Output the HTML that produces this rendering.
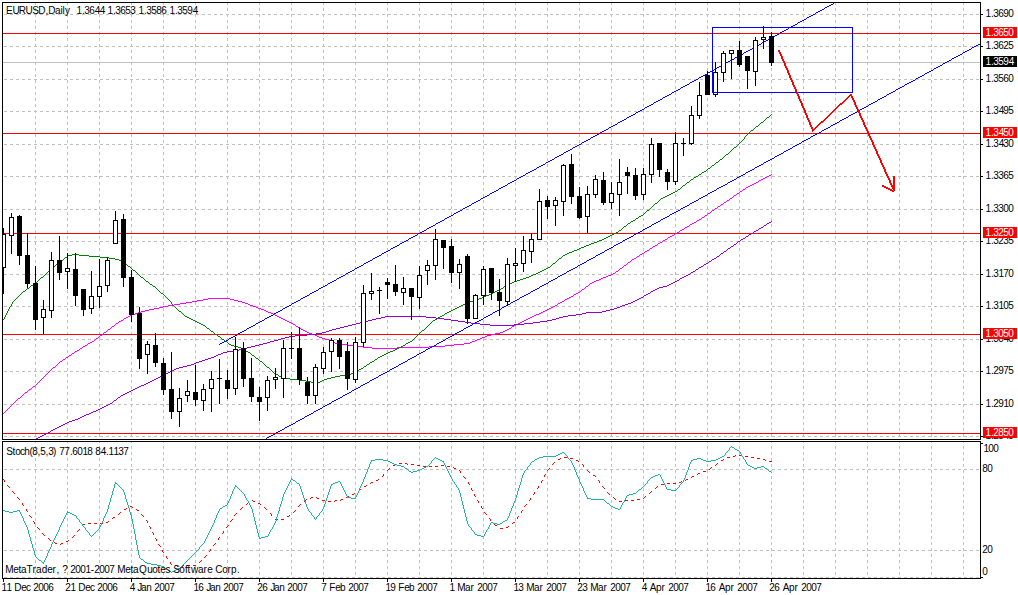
<!DOCTYPE html><html><head><meta charset="utf-8"><style>html,body{margin:0;padding:0;background:#fff;overflow:hidden}svg{display:block}text{font-family:"Liberation Sans", sans-serif;font-size:10px}</style></head><body>
<svg width="1018" height="595" viewBox="0 0 1018 595">
<rect x="0" y="0" width="1018" height="595" fill="#fff"/>
<defs><clipPath id="cm"><rect x="3" y="3" width="977" height="436"/></clipPath><clipPath id="cs"><rect x="3" y="442" width="977" height="136"/></clipPath></defs>
<g stroke="#c0c0c0" stroke-width="1" stroke-dasharray="3 3" shape-rendering="crispEdges" clip-path="url(#cm)"><line x1="4" y1="14.5" x2="980" y2="14.5"/><line x1="4" y1="46.5" x2="980" y2="46.5"/><line x1="4" y1="79.5" x2="980" y2="79.5"/><line x1="4" y1="111.5" x2="980" y2="111.5"/><line x1="4" y1="144.5" x2="980" y2="144.5"/><line x1="4" y1="176.5" x2="980" y2="176.5"/><line x1="4" y1="209.5" x2="980" y2="209.5"/><line x1="4" y1="241.5" x2="980" y2="241.5"/><line x1="4" y1="274.5" x2="980" y2="274.5"/><line x1="4" y1="306.5" x2="980" y2="306.5"/><line x1="4" y1="339.5" x2="980" y2="339.5"/><line x1="4" y1="371.5" x2="980" y2="371.5"/><line x1="4" y1="404.5" x2="980" y2="404.5"/><line x1="4" y1="436.5" x2="980" y2="436.5"/><line x1="35.5" y1="2" x2="35.5" y2="439"/><line x1="67.5" y1="2" x2="67.5" y2="439"/><line x1="99.5" y1="2" x2="99.5" y2="439"/><line x1="131.5" y1="2" x2="131.5" y2="439"/><line x1="163.5" y1="2" x2="163.5" y2="439"/><line x1="195.5" y1="2" x2="195.5" y2="439"/><line x1="227.5" y1="2" x2="227.5" y2="439"/><line x1="259.5" y1="2" x2="259.5" y2="439"/><line x1="291.5" y1="2" x2="291.5" y2="439"/><line x1="323.5" y1="2" x2="323.5" y2="439"/><line x1="355.5" y1="2" x2="355.5" y2="439"/><line x1="387.5" y1="2" x2="387.5" y2="439"/><line x1="419.5" y1="2" x2="419.5" y2="439"/><line x1="451.5" y1="2" x2="451.5" y2="439"/><line x1="483.5" y1="2" x2="483.5" y2="439"/><line x1="515.5" y1="2" x2="515.5" y2="439"/><line x1="547.5" y1="2" x2="547.5" y2="439"/><line x1="579.5" y1="2" x2="579.5" y2="439"/><line x1="611.5" y1="2" x2="611.5" y2="439"/><line x1="643.5" y1="2" x2="643.5" y2="439"/><line x1="675.5" y1="2" x2="675.5" y2="439"/><line x1="707.5" y1="2" x2="707.5" y2="439"/><line x1="739.5" y1="2" x2="739.5" y2="439"/><line x1="771.5" y1="2" x2="771.5" y2="439"/><line x1="803.5" y1="2" x2="803.5" y2="439"/><line x1="835.5" y1="2" x2="835.5" y2="439"/><line x1="867.5" y1="2" x2="867.5" y2="439"/><line x1="899.5" y1="2" x2="899.5" y2="439"/><line x1="931.5" y1="2" x2="931.5" y2="439"/><line x1="963.5" y1="2" x2="963.5" y2="439"/></g>
<g stroke="#c0c0c0" stroke-width="1" stroke-dasharray="3 3" shape-rendering="crispEdges" clip-path="url(#cs)"><line x1="4" y1="469.5" x2="980" y2="469.5"/><line x1="4" y1="550.5" x2="980" y2="550.5"/><line x1="4" y1="577.5" x2="980" y2="577.5"/><line x1="35.5" y1="440" x2="35.5" y2="578"/><line x1="67.5" y1="440" x2="67.5" y2="578"/><line x1="99.5" y1="440" x2="99.5" y2="578"/><line x1="131.5" y1="440" x2="131.5" y2="578"/><line x1="163.5" y1="440" x2="163.5" y2="578"/><line x1="195.5" y1="440" x2="195.5" y2="578"/><line x1="227.5" y1="440" x2="227.5" y2="578"/><line x1="259.5" y1="440" x2="259.5" y2="578"/><line x1="291.5" y1="440" x2="291.5" y2="578"/><line x1="323.5" y1="440" x2="323.5" y2="578"/><line x1="355.5" y1="440" x2="355.5" y2="578"/><line x1="387.5" y1="440" x2="387.5" y2="578"/><line x1="419.5" y1="440" x2="419.5" y2="578"/><line x1="451.5" y1="440" x2="451.5" y2="578"/><line x1="483.5" y1="440" x2="483.5" y2="578"/><line x1="515.5" y1="440" x2="515.5" y2="578"/><line x1="547.5" y1="440" x2="547.5" y2="578"/><line x1="579.5" y1="440" x2="579.5" y2="578"/><line x1="611.5" y1="440" x2="611.5" y2="578"/><line x1="643.5" y1="440" x2="643.5" y2="578"/><line x1="675.5" y1="440" x2="675.5" y2="578"/><line x1="707.5" y1="440" x2="707.5" y2="578"/><line x1="739.5" y1="440" x2="739.5" y2="578"/><line x1="771.5" y1="440" x2="771.5" y2="578"/><line x1="803.5" y1="440" x2="803.5" y2="578"/><line x1="835.5" y1="440" x2="835.5" y2="578"/><line x1="867.5" y1="440" x2="867.5" y2="578"/><line x1="899.5" y1="440" x2="899.5" y2="578"/><line x1="931.5" y1="440" x2="931.5" y2="578"/><line x1="963.5" y1="440" x2="963.5" y2="578"/></g>
<g shape-rendering="crispEdges" clip-path="url(#cm)">
<line x1="3" y1="62.5" x2="980" y2="62.5" stroke="#c0c0c0"/>
<line x1="3" y1="33.5" x2="980" y2="33.5" stroke="#ff0000"/>
<line x1="3" y1="133.5" x2="980" y2="133.5" stroke="#ff0000"/>
<line x1="3" y1="233.5" x2="980" y2="233.5" stroke="#ff0000"/>
<line x1="3" y1="334.5" x2="980" y2="334.5" stroke="#ff0000"/>
<line x1="3" y1="433.5" x2="980" y2="433.5" stroke="#ff0000"/>
</g>
<g clip-path="url(#cm)">
<path fill="#ff00ff" shape-rendering="crispEdges" d="M771 174h1v1h-1zM769 175h2v1h-2zM767 176h2v1h-2zM765 177h2v1h-2zM763 178h2v1h-2zM761 179h2v1h-2zM759 180h2v1h-2zM758 181h1v1h-1zM756 182h2v1h-2zM754 183h2v1h-2zM752 184h2v1h-2zM750 185h2v1h-2zM748 186h2v1h-2zM746 187h2v1h-2zM745 188h1v1h-1zM743 189h2v1h-2zM742 190h1v1h-1zM740 191h2v1h-2zM739 192h1v1h-1zM737 193h2v1h-2zM736 194h1v1h-1zM734 195h2v1h-2zM733 196h1v1h-1zM732 197h1v1h-1zM730 198h2v1h-2zM729 199h1v1h-1zM727 200h2v1h-2zM726 201h1v1h-1zM724 202h2v1h-2zM723 203h1v1h-1zM721 204h2v1h-2zM720 205h1v1h-1zM718 206h2v1h-2zM717 207h1v1h-1zM715 208h2v1h-2zM714 209h1v1h-1zM712 210h2v1h-2zM711 211h1v1h-1zM710 212h1v1h-1zM708 213h2v1h-2zM707 214h1v1h-1zM705 215h2v1h-2zM704 216h1v1h-1zM702 217h2v1h-2zM701 218h1v1h-1zM699 219h2v1h-2zM697 220h2v1h-2zM696 221h1v1h-1zM694 222h2v1h-2zM692 223h2v1h-2zM690 224h2v1h-2zM689 225h1v1h-1zM687 226h2v1h-2zM685 227h2v1h-2zM684 228h1v1h-1zM682 229h2v1h-2zM680 230h2v1h-2zM679 231h1v1h-1zM677 232h2v1h-2zM675 233h2v1h-2zM674 234h1v1h-1zM672 235h2v1h-2zM670 236h2v1h-2zM668 237h2v1h-2zM667 238h1v1h-1zM665 239h2v1h-2zM663 240h2v1h-2zM662 241h1v1h-1zM660 242h2v1h-2zM658 243h2v1h-2zM657 244h1v1h-1zM655 245h2v1h-2zM653 246h2v1h-2zM652 247h1v1h-1zM650 248h2v1h-2zM649 249h1v1h-1zM647 250h2v1h-2zM645 251h2v1h-2zM644 252h1v1h-1zM642 253h2v1h-2zM640 254h2v1h-2zM639 255h1v1h-1zM637 256h2v1h-2zM636 257h1v1h-1zM634 258h2v1h-2zM632 259h2v1h-2zM631 260h1v1h-1zM630 261h1v1h-1zM628 262h2v1h-2zM627 263h1v1h-1zM626 264h1v1h-1zM624 265h2v1h-2zM623 266h1v1h-1zM622 267h1v1h-1zM620 268h2v1h-2zM619 269h1v1h-1zM618 270h1v1h-1zM616 271h2v1h-2zM615 272h1v1h-1zM613 273h2v1h-2zM611 274h2v1h-2zM608 275h3v1h-3zM606 276h2v1h-2zM603 277h3v1h-3zM601 278h2v1h-2zM599 279h2v1h-2zM596 280h3v1h-3zM594 281h2v1h-2zM592 282h2v1h-2zM590 283h2v1h-2zM589 284h1v1h-1zM588 285h1v1h-1zM586 286h2v1h-2zM585 287h1v1h-1zM584 288h1v1h-1zM582 289h2v1h-2zM581 290h1v1h-1zM580 291h1v1h-1zM578 292h2v1h-2zM576 293h2v1h-2zM574 294h2v1h-2zM573 295h1v1h-1zM571 296h2v1h-2zM569 297h2v1h-2zM208 298h22v1h-22zM567 298h2v1h-2zM203 299h5v1h-5zM230 299h4v1h-4zM565 299h2v1h-2zM197 300h6v1h-6zM234 300h4v1h-4zM564 300h1v1h-1zM192 301h5v1h-5zM238 301h4v1h-4zM562 301h2v1h-2zM186 302h6v1h-6zM242 302h3v1h-3zM560 302h2v1h-2zM180 303h6v1h-6zM245 303h3v1h-3zM558 303h2v1h-2zM174 304h6v1h-6zM248 304h2v1h-2zM557 304h1v1h-1zM168 305h6v1h-6zM250 305h3v1h-3zM555 305h2v1h-2zM163 306h5v1h-5zM253 306h3v1h-3zM553 306h2v1h-2zM159 307h4v1h-4zM256 307h2v1h-2zM551 307h2v1h-2zM154 308h5v1h-5zM258 308h3v1h-3zM549 308h2v1h-2zM149 309h5v1h-5zM261 309h3v1h-3zM547 309h2v1h-2zM145 310h4v1h-4zM264 310h2v1h-2zM545 310h2v1h-2zM141 311h4v1h-4zM266 311h2v1h-2zM543 311h2v1h-2zM138 312h3v1h-3zM268 312h3v1h-3zM541 312h2v1h-2zM135 313h3v1h-3zM271 313h2v1h-2zM539 313h2v1h-2zM132 314h3v1h-3zM273 314h2v1h-2zM536 314h3v1h-3zM130 315h2v1h-2zM275 315h2v1h-2zM534 315h2v1h-2zM128 316h2v1h-2zM277 316h2v1h-2zM532 316h2v1h-2zM126 317h2v1h-2zM279 317h2v1h-2zM530 317h2v1h-2zM124 318h2v1h-2zM281 318h2v1h-2zM528 318h2v1h-2zM123 319h1v1h-1zM283 319h2v1h-2zM526 319h2v1h-2zM121 320h2v1h-2zM285 320h2v1h-2zM524 320h2v1h-2zM119 321h2v1h-2zM287 321h2v1h-2zM522 321h2v1h-2zM118 322h1v1h-1zM289 322h2v1h-2zM520 322h2v1h-2zM116 323h2v1h-2zM291 323h2v1h-2zM518 323h2v1h-2zM115 324h1v1h-1zM293 324h2v1h-2zM516 324h2v1h-2zM114 325h1v1h-1zM295 325h1v1h-1zM514 325h2v1h-2zM112 326h2v1h-2zM296 326h2v1h-2zM512 326h2v1h-2zM111 327h1v1h-1zM298 327h2v1h-2zM511 327h1v1h-1zM110 328h1v1h-1zM300 328h1v1h-1zM509 328h2v1h-2zM108 329h2v1h-2zM301 329h2v1h-2zM507 329h2v1h-2zM107 330h1v1h-1zM303 330h2v1h-2zM505 330h2v1h-2zM106 331h1v1h-1zM305 331h2v1h-2zM503 331h2v1h-2zM104 332h2v1h-2zM307 332h2v1h-2zM500 332h3v1h-3zM103 333h1v1h-1zM309 333h3v1h-3zM495 333h5v1h-5zM102 334h1v1h-1zM312 334h3v1h-3zM491 334h4v1h-4zM100 335h2v1h-2zM315 335h2v1h-2zM487 335h4v1h-4zM99 336h1v1h-1zM317 336h2v1h-2zM485 336h2v1h-2zM98 337h1v1h-1zM319 337h3v1h-3zM482 337h3v1h-3zM96 338h2v1h-2zM322 338h3v1h-3zM480 338h2v1h-2zM95 339h1v1h-1zM325 339h4v1h-4zM477 339h3v1h-3zM94 340h1v1h-1zM329 340h2v1h-2zM475 340h2v1h-2zM92 341h2v1h-2zM331 341h2v1h-2zM472 341h3v1h-3zM90 342h2v1h-2zM333 342h2v1h-2zM470 342h2v1h-2zM88 343h2v1h-2zM335 343h5v1h-5zM464 343h6v1h-6zM87 344h1v1h-1zM340 344h8v1h-8zM454 344h10v1h-10zM85 345h2v1h-2zM348 345h7v1h-7zM445 345h9v1h-9zM83 346h2v1h-2zM355 346h8v1h-8zM429 346h16v1h-16zM82 347h1v1h-1zM363 347h9v1h-9zM397 347h32v1h-32zM80 348h2v1h-2zM372 348h25v1h-25zM79 349h1v1h-1zM77 350h2v1h-2zM75 351h2v1h-2zM74 352h1v1h-1zM72 353h2v1h-2zM71 354h1v1h-1zM69 355h2v1h-2zM68 356h1v1h-1zM66 357h2v1h-2zM65 358h1v1h-1zM63 359h2v1h-2zM62 360h1v1h-1zM60 361h2v1h-2zM59 362h1v1h-1zM58 363h1v1h-1zM57 364h1v1h-1zM56 365h1v1h-1zM55 366h1v1h-1zM53 367h2v1h-2zM52 368h1v1h-1zM51 369h1v1h-1zM50 370h1v1h-1zM49 371h1v1h-1zM48 372h1v1h-1zM47 373h1v1h-1zM46 374h1v1h-1zM45 375h1v1h-1zM44 376h1v1h-1zM43 377h1v1h-1zM42 378h1v1h-1zM41 379h1v1h-1zM40 380h1v1h-1zM39 381h1v1h-1zM38 382h1v1h-1zM37 383h1v1h-1zM36 384h1v1h-1zM35 385h1v1h-1zM33 386h2v1h-2zM32 387h1v1h-1zM31 388h1v1h-1zM29 389h2v1h-2zM28 390h1v1h-1zM27 391h1v1h-1zM25 392h2v1h-2zM24 393h1v1h-1zM23 394h1v1h-1zM22 395h1v1h-1zM21 396h1v1h-1zM20 397h1v1h-1zM18 398h2v1h-2zM17 399h1v1h-1zM16 400h1v1h-1zM15 401h1v1h-1zM14 402h1v1h-1zM13 403h1v1h-1zM12 404h1v1h-1zM11 405h1v1h-1zM10 406h1v1h-1zM9 407h1v1h-1zM8 408h1v1h-1zM7 409h1v1h-1zM6 410h1v1h-1zM5 411h1v1h-1zM4 412h1v1h-1zM3 413h1v1h-1zM2 414h1v1h-1z"/>
<path fill="#9400d3" shape-rendering="crispEdges" d="M771 221h1v1h-1zM769 222h2v1h-2zM767 223h2v1h-2zM766 224h1v1h-1zM764 225h2v1h-2zM763 226h1v1h-1zM761 227h2v1h-2zM759 228h2v1h-2zM758 229h1v1h-1zM756 230h2v1h-2zM754 231h2v1h-2zM753 232h1v1h-1zM751 233h2v1h-2zM749 234h2v1h-2zM748 235h1v1h-1zM746 236h2v1h-2zM745 237h1v1h-1zM743 238h2v1h-2zM741 239h2v1h-2zM740 240h1v1h-1zM738 241h2v1h-2zM737 242h1v1h-1zM736 243h1v1h-1zM734 244h2v1h-2zM733 245h1v1h-1zM731 246h2v1h-2zM730 247h1v1h-1zM728 248h2v1h-2zM727 249h1v1h-1zM726 250h1v1h-1zM724 251h2v1h-2zM723 252h1v1h-1zM721 253h2v1h-2zM720 254h1v1h-1zM719 255h1v1h-1zM717 256h2v1h-2zM716 257h1v1h-1zM714 258h2v1h-2zM712 259h2v1h-2zM711 260h1v1h-1zM709 261h2v1h-2zM708 262h1v1h-1zM706 263h2v1h-2zM704 264h2v1h-2zM703 265h1v1h-1zM701 266h2v1h-2zM699 267h2v1h-2zM698 268h1v1h-1zM696 269h2v1h-2zM695 270h1v1h-1zM693 271h2v1h-2zM691 272h2v1h-2zM690 273h1v1h-1zM688 274h2v1h-2zM686 275h2v1h-2zM684 276h2v1h-2zM682 277h2v1h-2zM680 278h2v1h-2zM679 279h1v1h-1zM677 280h2v1h-2zM675 281h2v1h-2zM673 282h2v1h-2zM671 283h2v1h-2zM669 284h2v1h-2zM667 285h2v1h-2zM663 286h4v1h-4zM659 287h4v1h-4zM657 288h2v1h-2zM655 289h2v1h-2zM653 290h2v1h-2zM651 291h2v1h-2zM650 292h1v1h-1zM648 293h2v1h-2zM646 294h2v1h-2zM644 295h2v1h-2zM643 296h1v1h-1zM641 297h2v1h-2zM639 298h2v1h-2zM637 299h2v1h-2zM635 300h2v1h-2zM633 301h2v1h-2zM631 302h2v1h-2zM628 303h3v1h-3zM625 304h3v1h-3zM622 305h3v1h-3zM620 306h2v1h-2zM617 307h3v1h-3zM614 308h3v1h-3zM610 309h4v1h-4zM606 310h4v1h-4zM602 311h4v1h-4zM586 312h16v1h-16zM582 313h4v1h-4zM576 314h6v1h-6zM568 315h8v1h-8zM385 316h41v1h-41zM563 316h5v1h-5zM381 317h4v1h-4zM426 317h10v1h-10zM559 317h4v1h-4zM376 318h5v1h-5zM436 318h8v1h-8zM556 318h3v1h-3zM372 319h4v1h-4zM444 319h7v1h-7zM552 319h4v1h-4zM368 320h4v1h-4zM451 320h7v1h-7zM547 320h5v1h-5zM364 321h4v1h-4zM458 321h7v1h-7zM540 321h7v1h-7zM360 322h4v1h-4zM465 322h6v1h-6zM533 322h7v1h-7zM356 323h4v1h-4zM471 323h9v1h-9zM524 323h9v1h-9zM352 324h4v1h-4zM480 324h10v1h-10zM514 324h10v1h-10zM348 325h4v1h-4zM490 325h24v1h-24zM344 326h4v1h-4zM340 327h4v1h-4zM336 328h4v1h-4zM332 329h4v1h-4zM329 330h3v1h-3zM326 331h3v1h-3zM322 332h4v1h-4zM316 333h6v1h-6zM307 334h9v1h-9zM295 335h12v1h-12zM289 336h6v1h-6zM285 337h4v1h-4zM281 338h4v1h-4zM278 339h3v1h-3zM274 340h4v1h-4zM270 341h4v1h-4zM267 342h3v1h-3zM263 343h4v1h-4zM259 344h4v1h-4zM255 345h4v1h-4zM251 346h4v1h-4zM247 347h4v1h-4zM243 348h4v1h-4zM239 349h4v1h-4zM233 350h6v1h-6zM227 351h6v1h-6zM223 352h4v1h-4zM221 353h2v1h-2zM218 354h3v1h-3zM216 355h2v1h-2zM214 356h2v1h-2zM211 357h3v1h-3zM208 358h3v1h-3zM205 359h3v1h-3zM202 360h3v1h-3zM199 361h3v1h-3zM196 362h3v1h-3zM194 363h2v1h-2zM191 364h3v1h-3zM187 365h4v1h-4zM183 366h4v1h-4zM179 367h4v1h-4zM176 368h3v1h-3zM174 369h2v1h-2zM172 370h2v1h-2zM170 371h2v1h-2zM168 372h2v1h-2zM166 373h2v1h-2zM164 374h2v1h-2zM162 375h2v1h-2zM160 376h2v1h-2zM158 377h2v1h-2zM156 378h2v1h-2zM154 379h2v1h-2zM152 380h2v1h-2zM150 381h2v1h-2zM148 382h2v1h-2zM146 383h2v1h-2zM144 384h2v1h-2zM141 385h3v1h-3zM139 386h2v1h-2zM137 387h2v1h-2zM135 388h2v1h-2zM133 389h2v1h-2zM131 390h2v1h-2zM129 391h2v1h-2zM127 392h2v1h-2zM125 393h2v1h-2zM123 394h2v1h-2zM121 395h2v1h-2zM120 396h1v1h-1zM118 397h2v1h-2zM117 398h1v1h-1zM116 399h1v1h-1zM114 400h2v1h-2zM113 401h1v1h-1zM112 402h1v1h-1zM110 403h2v1h-2zM108 404h2v1h-2zM106 405h2v1h-2zM104 406h2v1h-2zM102 407h2v1h-2zM100 408h2v1h-2zM98 409h2v1h-2zM96 410h2v1h-2zM93 411h3v1h-3zM91 412h2v1h-2zM89 413h2v1h-2zM86 414h3v1h-3zM84 415h2v1h-2zM82 416h2v1h-2zM80 417h2v1h-2zM78 418h2v1h-2zM75 419h3v1h-3zM72 420h3v1h-3zM69 421h3v1h-3zM67 422h2v1h-2zM65 423h2v1h-2zM63 424h2v1h-2zM61 425h2v1h-2zM59 426h2v1h-2zM57 427h2v1h-2zM55 428h2v1h-2zM53 429h2v1h-2zM51 430h2v1h-2zM50 431h1v1h-1zM48 432h2v1h-2zM46 433h2v1h-2zM44 434h2v1h-2zM42 435h2v1h-2zM40 436h2v1h-2zM38 437h2v1h-2zM36 438h2v1h-2zM32 439h4v1h-4zM30 440h2v1h-2z"/>
<path fill="#008000" shape-rendering="crispEdges" d="M771 114h1v1h-1zM770 115h1v1h-1zM769 116h1v1h-1zM767 117h2v1h-2zM766 118h1v1h-1zM765 119h1v1h-1zM764 120h1v1h-1zM763 121h1v1h-1zM761 122h2v1h-2zM760 123h1v1h-1zM759 124h1v1h-1zM758 125h1v1h-1zM756 126h2v1h-2zM755 127h1v1h-1zM754 128h1v1h-1zM753 129h1v1h-1zM751 130h2v1h-2zM750 131h1v1h-1zM749 132h1v1h-1zM748 133h1v1h-1zM747 134h1v1h-1zM746 135h1v1h-1zM745 136h1v1h-1zM744 137h1v1h-1zM744 138h1v1h-1zM743 139h1v1h-1zM742 140h1v1h-1zM741 141h1v1h-1zM740 142h1v1h-1zM739 143h1v1h-1zM738 144h1v1h-1zM737 145h1v1h-1zM736 146h1v1h-1zM734 147h2v1h-2zM733 148h1v1h-1zM732 149h1v1h-1zM731 150h1v1h-1zM730 151h1v1h-1zM729 152h1v1h-1zM728 153h1v1h-1zM726 154h2v1h-2zM725 155h1v1h-1zM724 156h1v1h-1zM723 157h1v1h-1zM722 158h1v1h-1zM720 159h2v1h-2zM719 160h1v1h-1zM718 161h1v1h-1zM716 162h2v1h-2zM715 163h1v1h-1zM714 164h1v1h-1zM712 165h2v1h-2zM711 166h1v1h-1zM710 167h1v1h-1zM708 168h2v1h-2zM707 169h1v1h-1zM706 170h1v1h-1zM704 171h2v1h-2zM702 172h2v1h-2zM701 173h1v1h-1zM699 174h2v1h-2zM698 175h1v1h-1zM696 176h2v1h-2zM694 177h2v1h-2zM693 178h1v1h-1zM691 179h2v1h-2zM690 180h1v1h-1zM689 181h1v1h-1zM687 182h2v1h-2zM686 183h1v1h-1zM685 184h1v1h-1zM683 185h2v1h-2zM682 186h1v1h-1zM681 187h1v1h-1zM680 188h1v1h-1zM678 189h2v1h-2zM677 190h1v1h-1zM675 191h2v1h-2zM673 192h2v1h-2zM671 193h2v1h-2zM669 194h2v1h-2zM667 195h2v1h-2zM665 196h2v1h-2zM663 197h2v1h-2zM661 198h2v1h-2zM660 199h1v1h-1zM659 200h1v1h-1zM658 201h1v1h-1zM657 202h1v1h-1zM655 203h2v1h-2zM654 204h1v1h-1zM653 205h1v1h-1zM652 206h1v1h-1zM651 207h1v1h-1zM650 208h1v1h-1zM649 209h1v1h-1zM647 210h2v1h-2zM646 211h1v1h-1zM645 212h1v1h-1zM644 213h1v1h-1zM643 214h1v1h-1zM641 215h2v1h-2zM639 216h2v1h-2zM638 217h1v1h-1zM636 218h2v1h-2zM635 219h1v1h-1zM633 220h2v1h-2zM631 221h2v1h-2zM630 222h1v1h-1zM628 223h2v1h-2zM627 224h1v1h-1zM626 225h1v1h-1zM624 226h2v1h-2zM623 227h1v1h-1zM622 228h1v1h-1zM621 229h1v1h-1zM619 230h2v1h-2zM618 231h1v1h-1zM616 232h2v1h-2zM614 233h2v1h-2zM612 234h2v1h-2zM610 235h2v1h-2zM608 236h2v1h-2zM606 237h2v1h-2zM604 238h2v1h-2zM602 239h2v1h-2zM599 240h3v1h-3zM597 241h2v1h-2zM594 242h3v1h-3zM591 243h3v1h-3zM589 244h2v1h-2zM586 245h3v1h-3zM584 246h2v1h-2zM581 247h3v1h-3zM579 248h2v1h-2zM577 249h2v1h-2zM574 250h3v1h-3zM572 251h2v1h-2zM569 252h3v1h-3zM567 253h2v1h-2zM72 254h7v1h-7zM565 254h2v1h-2zM68 255h4v1h-4zM79 255h10v1h-10zM563 255h2v1h-2zM67 256h1v1h-1zM89 256h11v1h-11zM562 256h1v1h-1zM65 257h2v1h-2zM100 257h9v1h-9zM561 257h1v1h-1zM64 258h1v1h-1zM109 258h6v1h-6zM559 258h2v1h-2zM63 259h1v1h-1zM115 259h4v1h-4zM558 259h1v1h-1zM61 260h2v1h-2zM119 260h2v1h-2zM557 260h1v1h-1zM60 261h1v1h-1zM121 261h1v1h-1zM556 261h1v1h-1zM59 262h1v1h-1zM122 262h2v1h-2zM555 262h1v1h-1zM58 263h1v1h-1zM124 263h1v1h-1zM553 263h2v1h-2zM56 264h2v1h-2zM125 264h2v1h-2zM552 264h1v1h-1zM55 265h1v1h-1zM127 265h1v1h-1zM551 265h1v1h-1zM54 266h1v1h-1zM128 266h2v1h-2zM550 266h1v1h-1zM53 267h1v1h-1zM130 267h1v1h-1zM548 267h2v1h-2zM52 268h1v1h-1zM131 268h1v1h-1zM546 268h2v1h-2zM51 269h1v1h-1zM132 269h1v1h-1zM544 269h2v1h-2zM49 270h2v1h-2zM133 270h2v1h-2zM542 270h2v1h-2zM48 271h1v1h-1zM135 271h1v1h-1zM540 271h2v1h-2zM47 272h1v1h-1zM136 272h1v1h-1zM538 272h2v1h-2zM46 273h1v1h-1zM137 273h1v1h-1zM536 273h2v1h-2zM45 274h1v1h-1zM138 274h1v1h-1zM533 274h3v1h-3zM44 275h1v1h-1zM139 275h1v1h-1zM531 275h2v1h-2zM43 276h1v1h-1zM140 276h1v1h-1zM529 276h2v1h-2zM41 277h2v1h-2zM141 277h2v1h-2zM526 277h3v1h-3zM40 278h1v1h-1zM143 278h1v1h-1zM523 278h3v1h-3zM39 279h1v1h-1zM144 279h1v1h-1zM520 279h3v1h-3zM38 280h1v1h-1zM145 280h1v1h-1zM517 280h3v1h-3zM37 281h1v1h-1zM146 281h2v1h-2zM514 281h3v1h-3zM35 282h2v1h-2zM148 282h1v1h-1zM512 282h2v1h-2zM34 283h1v1h-1zM149 283h1v1h-1zM510 283h2v1h-2zM33 284h1v1h-1zM150 284h2v1h-2zM508 284h2v1h-2zM31 285h2v1h-2zM152 285h1v1h-1zM506 285h2v1h-2zM30 286h1v1h-1zM153 286h2v1h-2zM504 286h2v1h-2zM29 287h1v1h-1zM155 287h1v1h-1zM503 287h1v1h-1zM27 288h2v1h-2zM156 288h1v1h-1zM501 288h2v1h-2zM26 289h1v1h-1zM157 289h1v1h-1zM499 289h2v1h-2zM25 290h1v1h-1zM158 290h1v1h-1zM497 290h2v1h-2zM23 291h2v1h-2zM159 291h1v1h-1zM495 291h2v1h-2zM22 292h1v1h-1zM160 292h1v1h-1zM493 292h2v1h-2zM21 293h1v1h-1zM161 293h2v1h-2zM491 293h2v1h-2zM20 294h1v1h-1zM163 294h1v1h-1zM489 294h2v1h-2zM19 295h1v1h-1zM164 295h1v1h-1zM486 295h3v1h-3zM18 296h1v1h-1zM165 296h1v1h-1zM484 296h2v1h-2zM17 297h1v1h-1zM166 297h1v1h-1zM482 297h2v1h-2zM16 298h1v1h-1zM167 298h1v1h-1zM479 298h3v1h-3zM15 299h1v1h-1zM168 299h1v1h-1zM476 299h3v1h-3zM14 300h1v1h-1zM169 300h1v1h-1zM473 300h3v1h-3zM13 301h1v1h-1zM170 301h1v1h-1zM470 301h3v1h-3zM12 302h1v1h-1zM171 302h1v1h-1zM467 302h3v1h-3zM12 303h1v1h-1zM171 303h1v1h-1zM465 303h2v1h-2zM11 304h1v1h-1zM172 304h1v1h-1zM463 304h2v1h-2zM11 305h1v1h-1zM173 305h1v1h-1zM461 305h2v1h-2zM10 306h1v1h-1zM174 306h1v1h-1zM459 306h2v1h-2zM9 307h1v1h-1zM175 307h1v1h-1zM457 307h2v1h-2zM9 308h1v1h-1zM176 308h1v1h-1zM455 308h2v1h-2zM8 309h1v1h-1zM177 309h1v1h-1zM453 309h2v1h-2zM8 310h1v1h-1zM178 310h1v1h-1zM451 310h2v1h-2zM7 311h1v1h-1zM179 311h2v1h-2zM449 311h2v1h-2zM7 312h1v1h-1zM181 312h1v1h-1zM447 312h2v1h-2zM6 313h1v1h-1zM182 313h1v1h-1zM445 313h2v1h-2zM6 314h1v1h-1zM183 314h1v1h-1zM444 314h1v1h-1zM5 315h1v1h-1zM184 315h1v1h-1zM442 315h2v1h-2zM5 316h1v1h-1zM185 316h2v1h-2zM440 316h2v1h-2zM4 317h1v1h-1zM187 317h2v1h-2zM438 317h2v1h-2zM4 318h1v1h-1zM189 318h2v1h-2zM437 318h1v1h-1zM3 319h1v1h-1zM191 319h2v1h-2zM435 319h2v1h-2zM193 320h2v1h-2zM433 320h2v1h-2zM195 321h2v1h-2zM432 321h1v1h-1zM197 322h2v1h-2zM431 322h1v1h-1zM199 323h2v1h-2zM430 323h1v1h-1zM201 324h2v1h-2zM429 324h1v1h-1zM203 325h2v1h-2zM428 325h1v1h-1zM205 326h1v1h-1zM427 326h1v1h-1zM206 327h1v1h-1zM426 327h1v1h-1zM207 328h2v1h-2zM425 328h1v1h-1zM209 329h1v1h-1zM424 329h1v1h-1zM210 330h1v1h-1zM422 330h2v1h-2zM211 331h2v1h-2zM421 331h1v1h-1zM213 332h1v1h-1zM420 332h1v1h-1zM214 333h1v1h-1zM419 333h1v1h-1zM215 334h2v1h-2zM418 334h1v1h-1zM217 335h1v1h-1zM417 335h1v1h-1zM218 336h2v1h-2zM416 336h1v1h-1zM220 337h1v1h-1zM415 337h1v1h-1zM221 338h1v1h-1zM414 338h1v1h-1zM222 339h2v1h-2zM413 339h1v1h-1zM224 340h1v1h-1zM412 340h1v1h-1zM225 341h2v1h-2zM410 341h2v1h-2zM227 342h1v1h-1zM408 342h2v1h-2zM228 343h1v1h-1zM406 343h2v1h-2zM229 344h2v1h-2zM405 344h1v1h-1zM231 345h3v1h-3zM403 345h2v1h-2zM234 346h4v1h-4zM401 346h2v1h-2zM238 347h3v1h-3zM399 347h2v1h-2zM241 348h2v1h-2zM397 348h2v1h-2zM243 349h2v1h-2zM395 349h2v1h-2zM245 350h1v1h-1zM393 350h2v1h-2zM246 351h2v1h-2zM390 351h3v1h-3zM248 352h2v1h-2zM388 352h2v1h-2zM250 353h1v1h-1zM386 353h2v1h-2zM251 354h1v1h-1zM384 354h2v1h-2zM252 355h2v1h-2zM382 355h2v1h-2zM254 356h1v1h-1zM380 356h2v1h-2zM255 357h1v1h-1zM378 357h2v1h-2zM256 358h2v1h-2zM377 358h1v1h-1zM258 359h1v1h-1zM375 359h2v1h-2zM259 360h1v1h-1zM374 360h1v1h-1zM260 361h2v1h-2zM372 361h2v1h-2zM262 362h1v1h-1zM370 362h2v1h-2zM263 363h1v1h-1zM369 363h1v1h-1zM264 364h1v1h-1zM367 364h2v1h-2zM265 365h1v1h-1zM366 365h1v1h-1zM266 366h1v1h-1zM364 366h2v1h-2zM267 367h2v1h-2zM363 367h1v1h-1zM269 368h1v1h-1zM361 368h2v1h-2zM270 369h1v1h-1zM359 369h2v1h-2zM271 370h1v1h-1zM357 370h2v1h-2zM272 371h1v1h-1zM355 371h2v1h-2zM273 372h1v1h-1zM353 372h2v1h-2zM274 373h2v1h-2zM351 373h2v1h-2zM276 374h2v1h-2zM346 374h5v1h-5zM278 375h1v1h-1zM340 375h6v1h-6zM279 376h2v1h-2zM335 376h5v1h-5zM281 377h2v1h-2zM331 377h4v1h-4zM283 378h7v1h-7zM327 378h4v1h-4zM290 379h10v1h-10zM324 379h3v1h-3zM300 380h6v1h-6zM322 380h2v1h-2zM306 381h5v1h-5zM320 381h2v1h-2zM311 382h4v1h-4zM318 382h2v1h-2zM315 383h3v1h-3z"/>
<path fill="#0000ff" shape-rendering="crispEdges" d="M833 3h1v1h-1zM831 4h2v1h-2zM829 5h2v1h-2zM827 6h2v1h-2zM825 7h2v1h-2zM824 8h1v1h-1zM822 9h2v1h-2zM820 10h2v1h-2zM818 11h2v1h-2zM816 12h2v1h-2zM815 13h1v1h-1zM813 14h2v1h-2zM811 15h2v1h-2zM809 16h2v1h-2zM807 17h2v1h-2zM806 18h1v1h-1zM804 19h2v1h-2zM802 20h2v1h-2zM800 21h2v1h-2zM798 22h2v1h-2zM797 23h1v1h-1zM795 24h2v1h-2zM793 25h2v1h-2zM791 26h2v1h-2zM789 27h2v1h-2zM788 28h1v1h-1zM786 29h2v1h-2zM784 30h2v1h-2zM782 31h2v1h-2zM780 32h2v1h-2zM779 33h1v1h-1zM777 34h2v1h-2zM775 35h2v1h-2zM773 36h2v1h-2zM771 37h2v1h-2zM770 38h1v1h-1zM768 39h2v1h-2zM766 40h2v1h-2zM764 41h2v1h-2zM762 42h2v1h-2zM761 43h1v1h-1zM759 44h2v1h-2zM757 45h2v1h-2zM755 46h2v1h-2zM753 47h2v1h-2zM752 48h1v1h-1zM750 49h2v1h-2zM748 50h2v1h-2zM746 51h2v1h-2zM744 52h2v1h-2zM743 53h1v1h-1zM741 54h2v1h-2zM739 55h2v1h-2zM737 56h2v1h-2zM735 57h2v1h-2zM734 58h1v1h-1zM732 59h2v1h-2zM730 60h2v1h-2zM728 61h2v1h-2zM726 62h2v1h-2zM725 63h1v1h-1zM723 64h2v1h-2zM721 65h2v1h-2zM719 66h2v1h-2zM717 67h2v1h-2zM716 68h1v1h-1zM714 69h2v1h-2zM712 70h2v1h-2zM710 71h2v1h-2zM708 72h2v1h-2zM707 73h1v1h-1zM705 74h2v1h-2zM703 75h2v1h-2zM701 76h2v1h-2zM699 77h2v1h-2zM698 78h1v1h-1zM696 79h2v1h-2zM694 80h2v1h-2zM692 81h2v1h-2zM690 82h2v1h-2zM689 83h1v1h-1zM687 84h2v1h-2zM685 85h2v1h-2zM683 86h2v1h-2zM681 87h2v1h-2zM680 88h1v1h-1zM678 89h2v1h-2zM676 90h2v1h-2zM674 91h2v1h-2zM672 92h2v1h-2zM671 93h1v1h-1zM669 94h2v1h-2zM667 95h2v1h-2zM665 96h2v1h-2zM663 97h2v1h-2zM662 98h1v1h-1zM660 99h2v1h-2zM658 100h2v1h-2zM656 101h2v1h-2zM654 102h2v1h-2zM653 103h1v1h-1zM651 104h2v1h-2zM649 105h2v1h-2zM647 106h2v1h-2zM645 107h2v1h-2zM644 108h1v1h-1zM642 109h2v1h-2zM640 110h2v1h-2zM638 111h2v1h-2zM636 112h2v1h-2zM635 113h1v1h-1zM633 114h2v1h-2zM631 115h2v1h-2zM629 116h2v1h-2zM627 117h2v1h-2zM626 118h1v1h-1zM624 119h2v1h-2zM622 120h2v1h-2zM620 121h2v1h-2zM618 122h2v1h-2zM617 123h1v1h-1zM615 124h2v1h-2zM613 125h2v1h-2zM611 126h2v1h-2zM609 127h2v1h-2zM608 128h1v1h-1zM606 129h2v1h-2zM604 130h2v1h-2zM602 131h2v1h-2zM600 132h2v1h-2zM599 133h1v1h-1zM597 134h2v1h-2zM595 135h2v1h-2zM593 136h2v1h-2zM591 137h2v1h-2zM590 138h1v1h-1zM588 139h2v1h-2zM586 140h2v1h-2zM584 141h2v1h-2zM582 142h2v1h-2zM581 143h1v1h-1zM579 144h2v1h-2zM577 145h2v1h-2zM575 146h2v1h-2zM573 147h2v1h-2zM572 148h1v1h-1zM570 149h2v1h-2zM568 150h2v1h-2zM566 151h2v1h-2zM564 152h2v1h-2zM563 153h1v1h-1zM561 154h2v1h-2zM559 155h2v1h-2zM557 156h2v1h-2zM555 157h2v1h-2zM554 158h1v1h-1zM552 159h2v1h-2zM550 160h2v1h-2zM548 161h2v1h-2zM546 162h2v1h-2zM545 163h1v1h-1zM543 164h2v1h-2zM541 165h2v1h-2zM539 166h2v1h-2zM537 167h2v1h-2zM536 168h1v1h-1zM534 169h2v1h-2zM532 170h2v1h-2zM530 171h2v1h-2zM528 172h2v1h-2zM526 173h2v1h-2zM525 174h1v1h-1zM523 175h2v1h-2zM521 176h2v1h-2zM519 177h2v1h-2zM517 178h2v1h-2zM516 179h1v1h-1zM514 180h2v1h-2zM512 181h2v1h-2zM510 182h2v1h-2zM508 183h2v1h-2zM507 184h1v1h-1zM505 185h2v1h-2zM503 186h2v1h-2zM501 187h2v1h-2zM499 188h2v1h-2zM498 189h1v1h-1zM496 190h2v1h-2zM494 191h2v1h-2zM492 192h2v1h-2zM490 193h2v1h-2zM489 194h1v1h-1zM487 195h2v1h-2zM485 196h2v1h-2zM483 197h2v1h-2zM481 198h2v1h-2zM480 199h1v1h-1zM478 200h2v1h-2zM476 201h2v1h-2zM474 202h2v1h-2zM472 203h2v1h-2zM471 204h1v1h-1zM469 205h2v1h-2zM467 206h2v1h-2zM465 207h2v1h-2zM463 208h2v1h-2zM462 209h1v1h-1zM460 210h2v1h-2zM458 211h2v1h-2zM456 212h2v1h-2zM454 213h2v1h-2zM453 214h1v1h-1zM451 215h2v1h-2zM449 216h2v1h-2zM447 217h2v1h-2zM445 218h2v1h-2zM444 219h1v1h-1zM442 220h2v1h-2zM440 221h2v1h-2zM438 222h2v1h-2zM436 223h2v1h-2zM435 224h1v1h-1zM433 225h2v1h-2zM431 226h2v1h-2zM429 227h2v1h-2zM427 228h2v1h-2zM426 229h1v1h-1zM424 230h2v1h-2zM422 231h2v1h-2zM420 232h2v1h-2zM418 233h2v1h-2zM417 234h1v1h-1zM415 235h2v1h-2zM413 236h2v1h-2zM411 237h2v1h-2zM409 238h2v1h-2zM408 239h1v1h-1zM406 240h2v1h-2zM404 241h2v1h-2zM402 242h2v1h-2zM400 243h2v1h-2zM399 244h1v1h-1zM397 245h2v1h-2zM395 246h2v1h-2zM393 247h2v1h-2zM391 248h2v1h-2zM390 249h1v1h-1zM388 250h2v1h-2zM386 251h2v1h-2zM384 252h2v1h-2zM382 253h2v1h-2zM381 254h1v1h-1zM379 255h2v1h-2zM377 256h2v1h-2zM375 257h2v1h-2zM373 258h2v1h-2zM372 259h1v1h-1zM370 260h2v1h-2zM368 261h2v1h-2zM366 262h2v1h-2zM364 263h2v1h-2zM363 264h1v1h-1zM361 265h2v1h-2zM359 266h2v1h-2zM357 267h2v1h-2zM355 268h2v1h-2zM354 269h1v1h-1zM352 270h2v1h-2zM350 271h2v1h-2zM348 272h2v1h-2zM346 273h2v1h-2zM345 274h1v1h-1zM343 275h2v1h-2zM341 276h2v1h-2zM339 277h2v1h-2zM337 278h2v1h-2zM336 279h1v1h-1zM334 280h2v1h-2zM332 281h2v1h-2zM330 282h2v1h-2zM328 283h2v1h-2zM327 284h1v1h-1zM325 285h2v1h-2zM323 286h2v1h-2zM321 287h2v1h-2zM319 288h2v1h-2zM318 289h1v1h-1zM316 290h2v1h-2zM314 291h2v1h-2zM312 292h2v1h-2zM310 293h2v1h-2zM309 294h1v1h-1zM307 295h2v1h-2zM305 296h2v1h-2zM303 297h2v1h-2zM301 298h2v1h-2zM300 299h1v1h-1zM298 300h2v1h-2zM296 301h2v1h-2zM294 302h2v1h-2zM292 303h2v1h-2zM291 304h1v1h-1zM289 305h2v1h-2zM287 306h2v1h-2zM285 307h2v1h-2zM283 308h2v1h-2zM282 309h1v1h-1zM280 310h2v1h-2zM278 311h2v1h-2zM276 312h2v1h-2zM274 313h2v1h-2zM273 314h1v1h-1zM271 315h2v1h-2zM269 316h2v1h-2zM267 317h2v1h-2zM265 318h2v1h-2zM264 319h1v1h-1zM262 320h2v1h-2zM260 321h2v1h-2zM258 322h2v1h-2zM256 323h2v1h-2zM255 324h1v1h-1zM253 325h2v1h-2zM251 326h2v1h-2zM249 327h2v1h-2zM247 328h2v1h-2zM246 329h1v1h-1zM244 330h2v1h-2zM242 331h2v1h-2zM240 332h2v1h-2zM238 333h2v1h-2zM237 334h1v1h-1zM235 335h2v1h-2zM233 336h2v1h-2zM231 337h2v1h-2zM229 338h2v1h-2zM228 339h1v1h-1zM226 340h2v1h-2zM224 341h2v1h-2zM222 342h2v1h-2zM220 343h2v1h-2zM219 344h1v1h-1z"/>
<path fill="#0000ff" shape-rendering="crispEdges" d="M980 43h1v1h-1zM978 44h2v1h-2zM976 45h2v1h-2zM974 46h2v1h-2zM972 47h2v1h-2zM971 48h1v1h-1zM969 49h2v1h-2zM967 50h2v1h-2zM965 51h2v1h-2zM963 52h2v1h-2zM962 53h1v1h-1zM960 54h2v1h-2zM958 55h2v1h-2zM956 56h2v1h-2zM954 57h2v1h-2zM952 58h2v1h-2zM951 59h1v1h-1zM949 60h2v1h-2zM947 61h2v1h-2zM945 62h2v1h-2zM943 63h2v1h-2zM942 64h1v1h-1zM940 65h2v1h-2zM938 66h2v1h-2zM936 67h2v1h-2zM934 68h2v1h-2zM933 69h1v1h-1zM931 70h2v1h-2zM929 71h2v1h-2zM927 72h2v1h-2zM925 73h2v1h-2zM924 74h1v1h-1zM922 75h2v1h-2zM920 76h2v1h-2zM918 77h2v1h-2zM916 78h2v1h-2zM915 79h1v1h-1zM913 80h2v1h-2zM911 81h2v1h-2zM909 82h2v1h-2zM907 83h2v1h-2zM905 84h2v1h-2zM904 85h1v1h-1zM902 86h2v1h-2zM900 87h2v1h-2zM898 88h2v1h-2zM896 89h2v1h-2zM895 90h1v1h-1zM893 91h2v1h-2zM891 92h2v1h-2zM889 93h2v1h-2zM887 94h2v1h-2zM886 95h1v1h-1zM884 96h2v1h-2zM882 97h2v1h-2zM880 98h2v1h-2zM878 99h2v1h-2zM877 100h1v1h-1zM875 101h2v1h-2zM873 102h2v1h-2zM871 103h2v1h-2zM869 104h2v1h-2zM868 105h1v1h-1zM866 106h2v1h-2zM864 107h2v1h-2zM862 108h2v1h-2zM860 109h2v1h-2zM858 110h2v1h-2zM857 111h1v1h-1zM855 112h2v1h-2zM853 113h2v1h-2zM851 114h2v1h-2zM849 115h2v1h-2zM848 116h1v1h-1zM846 117h2v1h-2zM844 118h2v1h-2zM842 119h2v1h-2zM840 120h2v1h-2zM839 121h1v1h-1zM837 122h2v1h-2zM835 123h2v1h-2zM833 124h2v1h-2zM831 125h2v1h-2zM830 126h1v1h-1zM828 127h2v1h-2zM826 128h2v1h-2zM824 129h2v1h-2zM822 130h2v1h-2zM821 131h1v1h-1zM819 132h2v1h-2zM817 133h2v1h-2zM815 134h2v1h-2zM813 135h2v1h-2zM811 136h2v1h-2zM810 137h1v1h-1zM808 138h2v1h-2zM806 139h2v1h-2zM804 140h2v1h-2zM802 141h2v1h-2zM801 142h1v1h-1zM799 143h2v1h-2zM797 144h2v1h-2zM795 145h2v1h-2zM793 146h2v1h-2zM792 147h1v1h-1zM790 148h2v1h-2zM788 149h2v1h-2zM786 150h2v1h-2zM784 151h2v1h-2zM783 152h1v1h-1zM781 153h2v1h-2zM779 154h2v1h-2zM777 155h2v1h-2zM775 156h2v1h-2zM774 157h1v1h-1zM772 158h2v1h-2zM770 159h2v1h-2zM768 160h2v1h-2zM766 161h2v1h-2zM764 162h2v1h-2zM763 163h1v1h-1zM761 164h2v1h-2zM759 165h2v1h-2zM757 166h2v1h-2zM755 167h2v1h-2zM754 168h1v1h-1zM752 169h2v1h-2zM750 170h2v1h-2zM748 171h2v1h-2zM746 172h2v1h-2zM745 173h1v1h-1zM743 174h2v1h-2zM741 175h2v1h-2zM739 176h2v1h-2zM737 177h2v1h-2zM736 178h1v1h-1zM734 179h2v1h-2zM732 180h2v1h-2zM730 181h2v1h-2zM728 182h2v1h-2zM727 183h1v1h-1zM725 184h2v1h-2zM723 185h2v1h-2zM721 186h2v1h-2zM719 187h2v1h-2zM717 188h2v1h-2zM716 189h1v1h-1zM714 190h2v1h-2zM712 191h2v1h-2zM710 192h2v1h-2zM708 193h2v1h-2zM707 194h1v1h-1zM705 195h2v1h-2zM703 196h2v1h-2zM701 197h2v1h-2zM699 198h2v1h-2zM698 199h1v1h-1zM696 200h2v1h-2zM694 201h2v1h-2zM692 202h2v1h-2zM690 203h2v1h-2zM689 204h1v1h-1zM687 205h2v1h-2zM685 206h2v1h-2zM683 207h2v1h-2zM681 208h2v1h-2zM680 209h1v1h-1zM678 210h2v1h-2zM676 211h2v1h-2zM674 212h2v1h-2zM672 213h2v1h-2zM670 214h2v1h-2zM669 215h1v1h-1zM667 216h2v1h-2zM665 217h2v1h-2zM663 218h2v1h-2zM661 219h2v1h-2zM660 220h1v1h-1zM658 221h2v1h-2zM656 222h2v1h-2zM654 223h2v1h-2zM652 224h2v1h-2zM651 225h1v1h-1zM649 226h2v1h-2zM647 227h2v1h-2zM645 228h2v1h-2zM643 229h2v1h-2zM642 230h1v1h-1zM640 231h2v1h-2zM638 232h2v1h-2zM636 233h2v1h-2zM634 234h2v1h-2zM633 235h1v1h-1zM631 236h2v1h-2zM629 237h2v1h-2zM627 238h2v1h-2zM625 239h2v1h-2zM623 240h2v1h-2zM622 241h1v1h-1zM620 242h2v1h-2zM618 243h2v1h-2zM616 244h2v1h-2zM614 245h2v1h-2zM613 246h1v1h-1zM611 247h2v1h-2zM609 248h2v1h-2zM607 249h2v1h-2zM605 250h2v1h-2zM604 251h1v1h-1zM602 252h2v1h-2zM600 253h2v1h-2zM598 254h2v1h-2zM596 255h2v1h-2zM595 256h1v1h-1zM593 257h2v1h-2zM591 258h2v1h-2zM589 259h2v1h-2zM587 260h2v1h-2zM586 261h1v1h-1zM584 262h2v1h-2zM582 263h2v1h-2zM580 264h2v1h-2zM578 265h2v1h-2zM577 266h1v1h-1zM575 267h2v1h-2zM573 268h2v1h-2zM571 269h2v1h-2zM569 270h2v1h-2zM567 271h2v1h-2zM566 272h1v1h-1zM564 273h2v1h-2zM562 274h2v1h-2zM560 275h2v1h-2zM558 276h2v1h-2zM557 277h1v1h-1zM555 278h2v1h-2zM553 279h2v1h-2zM551 280h2v1h-2zM549 281h2v1h-2zM548 282h1v1h-1zM546 283h2v1h-2zM544 284h2v1h-2zM542 285h2v1h-2zM540 286h2v1h-2zM539 287h1v1h-1zM537 288h2v1h-2zM535 289h2v1h-2zM533 290h2v1h-2zM531 291h2v1h-2zM530 292h1v1h-1zM528 293h2v1h-2zM526 294h2v1h-2zM524 295h2v1h-2zM522 296h2v1h-2zM520 297h2v1h-2zM519 298h1v1h-1zM517 299h2v1h-2zM515 300h2v1h-2zM513 301h2v1h-2zM511 302h2v1h-2zM510 303h1v1h-1zM508 304h2v1h-2zM506 305h2v1h-2zM504 306h2v1h-2zM502 307h2v1h-2zM501 308h1v1h-1zM499 309h2v1h-2zM497 310h2v1h-2zM495 311h2v1h-2zM493 312h2v1h-2zM492 313h1v1h-1zM490 314h2v1h-2zM488 315h2v1h-2zM486 316h2v1h-2zM484 317h2v1h-2zM483 318h1v1h-1zM481 319h2v1h-2zM479 320h2v1h-2zM477 321h2v1h-2zM475 322h2v1h-2zM473 323h2v1h-2zM472 324h1v1h-1zM470 325h2v1h-2zM468 326h2v1h-2zM466 327h2v1h-2zM464 328h2v1h-2zM463 329h1v1h-1zM461 330h2v1h-2zM459 331h2v1h-2zM457 332h2v1h-2zM455 333h2v1h-2zM454 334h1v1h-1zM452 335h2v1h-2zM450 336h2v1h-2zM448 337h2v1h-2zM446 338h2v1h-2zM445 339h1v1h-1zM443 340h2v1h-2zM441 341h2v1h-2zM439 342h2v1h-2zM437 343h2v1h-2zM436 344h1v1h-1zM434 345h2v1h-2zM432 346h2v1h-2zM430 347h2v1h-2zM428 348h2v1h-2zM426 349h2v1h-2zM425 350h1v1h-1zM423 351h2v1h-2zM421 352h2v1h-2zM419 353h2v1h-2zM417 354h2v1h-2zM416 355h1v1h-1zM414 356h2v1h-2zM412 357h2v1h-2zM410 358h2v1h-2zM408 359h2v1h-2zM407 360h1v1h-1zM405 361h2v1h-2zM403 362h2v1h-2zM401 363h2v1h-2zM399 364h2v1h-2zM398 365h1v1h-1zM396 366h2v1h-2zM394 367h2v1h-2zM392 368h2v1h-2zM390 369h2v1h-2zM389 370h1v1h-1zM387 371h2v1h-2zM385 372h2v1h-2zM383 373h2v1h-2zM381 374h2v1h-2zM379 375h2v1h-2zM378 376h1v1h-1zM376 377h2v1h-2zM374 378h2v1h-2zM372 379h2v1h-2zM370 380h2v1h-2zM369 381h1v1h-1zM367 382h2v1h-2zM365 383h2v1h-2zM363 384h2v1h-2zM361 385h2v1h-2zM360 386h1v1h-1zM358 387h2v1h-2zM356 388h2v1h-2zM354 389h2v1h-2zM352 390h2v1h-2zM351 391h1v1h-1zM349 392h2v1h-2zM347 393h2v1h-2zM345 394h2v1h-2zM343 395h2v1h-2zM342 396h1v1h-1zM340 397h2v1h-2zM338 398h2v1h-2zM336 399h2v1h-2zM334 400h2v1h-2zM332 401h2v1h-2zM331 402h1v1h-1zM329 403h2v1h-2zM327 404h2v1h-2zM325 405h2v1h-2zM323 406h2v1h-2zM322 407h1v1h-1zM320 408h2v1h-2zM318 409h2v1h-2zM316 410h2v1h-2zM314 411h2v1h-2zM313 412h1v1h-1zM311 413h2v1h-2zM309 414h2v1h-2zM307 415h2v1h-2zM305 416h2v1h-2zM304 417h1v1h-1zM302 418h2v1h-2zM300 419h2v1h-2zM298 420h2v1h-2zM296 421h2v1h-2zM295 422h1v1h-1zM293 423h2v1h-2zM291 424h2v1h-2zM289 425h2v1h-2zM287 426h2v1h-2zM285 427h2v1h-2zM284 428h1v1h-1zM282 429h2v1h-2zM280 430h2v1h-2zM278 431h2v1h-2zM276 432h2v1h-2zM275 433h1v1h-1zM273 434h2v1h-2zM271 435h2v1h-2zM269 436h2v1h-2zM267 437h2v1h-2zM266 438h1v1h-1z"/>
</g>
<g shape-rendering="crispEdges" clip-path="url(#cm)"><rect x="3" y="228" width="1" height="66" fill="#000"/><rect x="1" y="234" width="5" height="34" fill="#000"/><rect x="2" y="235" width="3" height="32" fill="#fff"/><rect x="11" y="213" width="1" height="41" fill="#000"/><rect x="9" y="217" width="5" height="19" fill="#000"/><rect x="10" y="218" width="3" height="17" fill="#fff"/><rect x="19" y="215" width="1" height="50" fill="#000"/><rect x="17" y="216" width="5" height="40" fill="#000"/><rect x="27" y="233" width="1" height="55" fill="#000"/><rect x="25" y="255" width="5" height="29" fill="#000"/><rect x="35" y="266" width="1" height="64" fill="#000"/><rect x="33" y="283" width="5" height="37" fill="#000"/><rect x="43" y="300" width="1" height="34" fill="#000"/><rect x="41" y="309" width="5" height="9" fill="#000"/><rect x="42" y="310" width="3" height="7" fill="#fff"/><rect x="51" y="252" width="1" height="66" fill="#000"/><rect x="49" y="260" width="5" height="51" fill="#000"/><rect x="50" y="261" width="3" height="49" fill="#fff"/><rect x="59" y="236" width="1" height="44" fill="#000"/><rect x="57" y="260" width="5" height="13" fill="#000"/><rect x="67" y="253" width="1" height="36" fill="#000"/><rect x="65" y="268" width="5" height="4" fill="#000"/><rect x="66" y="269" width="3" height="2" fill="#fff"/><rect x="75" y="253" width="1" height="53" fill="#000"/><rect x="73" y="269" width="5" height="27" fill="#000"/><rect x="83" y="289" width="1" height="27" fill="#000"/><rect x="81" y="289" width="5" height="21" fill="#000"/><rect x="91" y="271" width="1" height="43" fill="#000"/><rect x="89" y="296" width="5" height="13" fill="#000"/><rect x="90" y="297" width="3" height="11" fill="#fff"/><rect x="99" y="259" width="1" height="49" fill="#000"/><rect x="97" y="286" width="5" height="11" fill="#000"/><rect x="98" y="287" width="3" height="9" fill="#fff"/><rect x="107" y="257" width="1" height="35" fill="#000"/><rect x="105" y="260" width="5" height="26" fill="#000"/><rect x="106" y="261" width="3" height="24" fill="#fff"/><rect x="115" y="211" width="1" height="33" fill="#000"/><rect x="113" y="220" width="5" height="24" fill="#000"/><rect x="114" y="221" width="3" height="22" fill="#fff"/><rect x="123" y="214" width="1" height="73" fill="#000"/><rect x="121" y="219" width="5" height="59" fill="#000"/><rect x="131" y="270" width="1" height="52" fill="#000"/><rect x="129" y="277" width="5" height="38" fill="#000"/><rect x="139" y="307" width="1" height="62" fill="#000"/><rect x="137" y="313" width="5" height="46" fill="#000"/><rect x="147" y="341" width="1" height="33" fill="#000"/><rect x="145" y="344" width="5" height="11" fill="#000"/><rect x="146" y="345" width="3" height="9" fill="#fff"/><rect x="155" y="333" width="1" height="34" fill="#000"/><rect x="153" y="345" width="5" height="18" fill="#000"/><rect x="163" y="358" width="1" height="37" fill="#000"/><rect x="161" y="363" width="5" height="27" fill="#000"/><rect x="171" y="352" width="1" height="67" fill="#000"/><rect x="169" y="389" width="5" height="23" fill="#000"/><rect x="179" y="388" width="1" height="39" fill="#000"/><rect x="177" y="398" width="5" height="14" fill="#000"/><rect x="178" y="399" width="3" height="12" fill="#fff"/><rect x="187" y="380" width="1" height="22" fill="#000"/><rect x="185" y="391" width="5" height="5" fill="#000"/><rect x="186" y="392" width="3" height="3" fill="#fff"/><rect x="195" y="365" width="1" height="41" fill="#000"/><rect x="193" y="392" width="5" height="8" fill="#000"/><rect x="203" y="384" width="1" height="27" fill="#000"/><rect x="201" y="389" width="5" height="12" fill="#000"/><rect x="202" y="390" width="3" height="10" fill="#fff"/><rect x="211" y="371" width="1" height="41" fill="#000"/><rect x="209" y="379" width="5" height="10" fill="#000"/><rect x="210" y="380" width="3" height="8" fill="#fff"/><rect x="219" y="359" width="1" height="45" fill="#000"/><rect x="217" y="378" width="5" height="1" fill="#000"/><rect x="227" y="370" width="1" height="29" fill="#000"/><rect x="225" y="380" width="5" height="9" fill="#000"/><rect x="235" y="337" width="1" height="58" fill="#000"/><rect x="233" y="349" width="5" height="40" fill="#000"/><rect x="234" y="350" width="3" height="38" fill="#fff"/><rect x="243" y="342" width="1" height="45" fill="#000"/><rect x="241" y="348" width="5" height="31" fill="#000"/><rect x="251" y="358" width="1" height="44" fill="#000"/><rect x="249" y="378" width="5" height="19" fill="#000"/><rect x="259" y="387" width="1" height="34" fill="#000"/><rect x="257" y="397" width="5" height="5" fill="#000"/><rect x="267" y="376" width="1" height="35" fill="#000"/><rect x="265" y="380" width="5" height="18" fill="#000"/><rect x="266" y="381" width="3" height="16" fill="#fff"/><rect x="275" y="368" width="1" height="21" fill="#000"/><rect x="273" y="377" width="5" height="3" fill="#000"/><rect x="274" y="378" width="3" height="1" fill="#fff"/><rect x="283" y="340" width="1" height="58" fill="#000"/><rect x="281" y="348" width="5" height="31" fill="#000"/><rect x="282" y="349" width="3" height="29" fill="#fff"/><rect x="291" y="332" width="1" height="27" fill="#000"/><rect x="289" y="348" width="5" height="1" fill="#000"/><rect x="299" y="327" width="1" height="58" fill="#000"/><rect x="297" y="348" width="5" height="32" fill="#000"/><rect x="307" y="377" width="1" height="27" fill="#000"/><rect x="305" y="382" width="5" height="14" fill="#000"/><rect x="315" y="364" width="1" height="40" fill="#000"/><rect x="313" y="367" width="5" height="29" fill="#000"/><rect x="314" y="368" width="3" height="27" fill="#fff"/><rect x="323" y="347" width="1" height="27" fill="#000"/><rect x="321" y="352" width="5" height="17" fill="#000"/><rect x="322" y="353" width="3" height="15" fill="#fff"/><rect x="331" y="338" width="1" height="34" fill="#000"/><rect x="329" y="340" width="5" height="12" fill="#000"/><rect x="330" y="341" width="3" height="10" fill="#fff"/><rect x="339" y="338" width="1" height="31" fill="#000"/><rect x="337" y="340" width="5" height="17" fill="#000"/><rect x="347" y="342" width="1" height="48" fill="#000"/><rect x="345" y="351" width="5" height="28" fill="#000"/><rect x="355" y="337" width="1" height="46" fill="#000"/><rect x="353" y="342" width="5" height="38" fill="#000"/><rect x="354" y="343" width="3" height="36" fill="#fff"/><rect x="363" y="285" width="1" height="62" fill="#000"/><rect x="361" y="293" width="5" height="50" fill="#000"/><rect x="362" y="294" width="3" height="48" fill="#fff"/><rect x="371" y="273" width="1" height="27" fill="#000"/><rect x="369" y="291" width="5" height="3" fill="#000"/><rect x="370" y="292" width="3" height="1" fill="#fff"/><rect x="379" y="287" width="1" height="27" fill="#000"/><rect x="377" y="290" width="5" height="1" fill="#000"/><rect x="387" y="278" width="1" height="21" fill="#000"/><rect x="385" y="282" width="5" height="3" fill="#000"/><rect x="395" y="265" width="1" height="31" fill="#000"/><rect x="393" y="284" width="5" height="8" fill="#000"/><rect x="403" y="277" width="1" height="28" fill="#000"/><rect x="401" y="288" width="5" height="5" fill="#000"/><rect x="402" y="289" width="3" height="3" fill="#fff"/><rect x="411" y="288" width="1" height="32" fill="#000"/><rect x="409" y="288" width="5" height="9" fill="#000"/><rect x="419" y="266" width="1" height="43" fill="#000"/><rect x="417" y="275" width="5" height="23" fill="#000"/><rect x="418" y="276" width="3" height="21" fill="#fff"/><rect x="427" y="260" width="1" height="25" fill="#000"/><rect x="425" y="265" width="5" height="6" fill="#000"/><rect x="426" y="266" width="3" height="4" fill="#fff"/><rect x="435" y="229" width="1" height="51" fill="#000"/><rect x="433" y="239" width="5" height="27" fill="#000"/><rect x="434" y="240" width="3" height="25" fill="#fff"/><rect x="443" y="240" width="1" height="29" fill="#000"/><rect x="441" y="240" width="5" height="8" fill="#000"/><rect x="451" y="239" width="1" height="44" fill="#000"/><rect x="449" y="246" width="5" height="27" fill="#000"/><rect x="459" y="259" width="1" height="30" fill="#000"/><rect x="457" y="264" width="5" height="9" fill="#000"/><rect x="458" y="265" width="3" height="7" fill="#fff"/><rect x="467" y="254" width="1" height="70" fill="#000"/><rect x="465" y="256" width="5" height="63" fill="#000"/><rect x="475" y="294" width="1" height="25" fill="#000"/><rect x="473" y="295" width="5" height="24" fill="#000"/><rect x="474" y="296" width="3" height="22" fill="#fff"/><rect x="483" y="266" width="1" height="39" fill="#000"/><rect x="481" y="269" width="5" height="27" fill="#000"/><rect x="482" y="270" width="3" height="25" fill="#fff"/><rect x="491" y="268" width="1" height="32" fill="#000"/><rect x="489" y="268" width="5" height="25" fill="#000"/><rect x="499" y="279" width="1" height="37" fill="#000"/><rect x="497" y="292" width="5" height="9" fill="#000"/><rect x="507" y="258" width="1" height="48" fill="#000"/><rect x="505" y="264" width="5" height="38" fill="#000"/><rect x="506" y="265" width="3" height="36" fill="#fff"/><rect x="515" y="248" width="1" height="34" fill="#000"/><rect x="513" y="263" width="5" height="3" fill="#000"/><rect x="514" y="264" width="3" height="1" fill="#fff"/><rect x="523" y="236" width="1" height="36" fill="#000"/><rect x="521" y="250" width="5" height="14" fill="#000"/><rect x="522" y="251" width="3" height="12" fill="#fff"/><rect x="531" y="233" width="1" height="30" fill="#000"/><rect x="529" y="239" width="5" height="13" fill="#000"/><rect x="530" y="240" width="3" height="11" fill="#fff"/><rect x="539" y="189" width="1" height="51" fill="#000"/><rect x="537" y="201" width="5" height="39" fill="#000"/><rect x="538" y="202" width="3" height="37" fill="#fff"/><rect x="547" y="196" width="1" height="23" fill="#000"/><rect x="545" y="200" width="5" height="7" fill="#000"/><rect x="555" y="197" width="1" height="29" fill="#000"/><rect x="553" y="200" width="5" height="6" fill="#000"/><rect x="554" y="201" width="3" height="4" fill="#fff"/><rect x="563" y="164" width="1" height="52" fill="#000"/><rect x="561" y="165" width="5" height="37" fill="#000"/><rect x="562" y="166" width="3" height="35" fill="#fff"/><rect x="571" y="154" width="1" height="50" fill="#000"/><rect x="569" y="164" width="5" height="33" fill="#000"/><rect x="579" y="187" width="1" height="32" fill="#000"/><rect x="577" y="196" width="5" height="22" fill="#000"/><rect x="587" y="186" width="1" height="47" fill="#000"/><rect x="585" y="194" width="5" height="23" fill="#000"/><rect x="586" y="195" width="3" height="21" fill="#fff"/><rect x="595" y="175" width="1" height="23" fill="#000"/><rect x="593" y="179" width="5" height="16" fill="#000"/><rect x="594" y="180" width="3" height="14" fill="#fff"/><rect x="603" y="172" width="1" height="33" fill="#000"/><rect x="601" y="180" width="5" height="23" fill="#000"/><rect x="611" y="182" width="1" height="27" fill="#000"/><rect x="609" y="193" width="5" height="10" fill="#000"/><rect x="610" y="194" width="3" height="8" fill="#fff"/><rect x="619" y="159" width="1" height="57" fill="#000"/><rect x="617" y="182" width="5" height="13" fill="#000"/><rect x="618" y="183" width="3" height="11" fill="#fff"/><rect x="627" y="167" width="1" height="27" fill="#000"/><rect x="625" y="172" width="5" height="4" fill="#000"/><rect x="635" y="168" width="1" height="32" fill="#000"/><rect x="633" y="175" width="5" height="21" fill="#000"/><rect x="643" y="168" width="1" height="32" fill="#000"/><rect x="641" y="174" width="5" height="21" fill="#000"/><rect x="642" y="175" width="3" height="19" fill="#fff"/><rect x="651" y="138" width="1" height="45" fill="#000"/><rect x="649" y="144" width="5" height="31" fill="#000"/><rect x="650" y="145" width="3" height="29" fill="#fff"/><rect x="659" y="143" width="1" height="34" fill="#000"/><rect x="657" y="143" width="5" height="27" fill="#000"/><rect x="667" y="169" width="1" height="21" fill="#000"/><rect x="665" y="172" width="5" height="10" fill="#000"/><rect x="675" y="132" width="1" height="53" fill="#000"/><rect x="673" y="143" width="5" height="39" fill="#000"/><rect x="674" y="144" width="3" height="37" fill="#fff"/><rect x="683" y="138" width="1" height="18" fill="#000"/><rect x="681" y="143" width="5" height="1" fill="#000"/><rect x="691" y="106" width="1" height="39" fill="#000"/><rect x="689" y="115" width="5" height="29" fill="#000"/><rect x="690" y="116" width="3" height="27" fill="#fff"/><rect x="699" y="82" width="1" height="37" fill="#000"/><rect x="697" y="95" width="5" height="21" fill="#000"/><rect x="698" y="96" width="3" height="19" fill="#fff"/><rect x="707" y="71" width="1" height="24" fill="#000"/><rect x="705" y="75" width="5" height="20" fill="#000"/><rect x="715" y="62" width="1" height="35" fill="#000"/><rect x="713" y="72" width="5" height="23" fill="#000"/><rect x="714" y="73" width="3" height="21" fill="#fff"/><rect x="723" y="51" width="1" height="31" fill="#000"/><rect x="721" y="53" width="5" height="20" fill="#000"/><rect x="722" y="54" width="3" height="18" fill="#fff"/><rect x="731" y="50" width="1" height="29" fill="#000"/><rect x="729" y="50" width="5" height="4" fill="#000"/><rect x="730" y="51" width="3" height="2" fill="#fff"/><rect x="739" y="41" width="1" height="26" fill="#000"/><rect x="737" y="50" width="5" height="15" fill="#000"/><rect x="747" y="56" width="1" height="33" fill="#000"/><rect x="745" y="56" width="5" height="15" fill="#000"/><rect x="755" y="37" width="1" height="49" fill="#000"/><rect x="753" y="40" width="5" height="32" fill="#000"/><rect x="754" y="41" width="3" height="30" fill="#fff"/><rect x="763" y="26" width="1" height="23" fill="#000"/><rect x="761" y="37" width="5" height="3" fill="#000"/><rect x="762" y="38" width="3" height="1" fill="#fff"/><rect x="771" y="32" width="1" height="34" fill="#000"/><rect x="769" y="36" width="5" height="27" fill="#000"/></g>
<g clip-path="url(#cm)">
<rect x="712.5" y="27.5" width="140" height="65" fill="none" stroke="#0000ff" stroke-width="1" shape-rendering="crispEdges"/>
<path fill="#ff0000" shape-rendering="crispEdges" d="M778 50h2v1h-2zM778 51h2v1h-2zM779 52h2v1h-2zM779 53h2v1h-2zM780 54h2v1h-2zM780 55h2v1h-2zM781 56h2v1h-2zM781 57h2v1h-2zM781 58h2v1h-2zM782 59h2v1h-2zM782 60h2v1h-2zM783 61h2v1h-2zM783 62h2v1h-2zM784 63h2v1h-2zM784 64h2v1h-2zM784 65h2v1h-2zM785 66h2v1h-2zM785 67h2v1h-2zM786 68h2v1h-2zM786 69h2v1h-2zM787 70h2v1h-2zM787 71h2v1h-2zM787 72h2v1h-2zM788 73h2v1h-2zM788 74h2v1h-2zM789 75h2v1h-2zM789 76h2v1h-2zM789 77h2v1h-2zM790 78h2v1h-2zM790 79h2v1h-2zM791 80h2v1h-2zM791 81h2v1h-2zM792 82h2v1h-2zM792 83h2v1h-2zM792 84h2v1h-2zM793 85h2v1h-2zM793 86h2v1h-2zM794 87h2v1h-2zM794 88h2v1h-2zM795 89h2v1h-2zM795 90h2v1h-2zM795 91h2v1h-2zM796 92h2v1h-2zM796 93h2v1h-2zM797 94h2v1h-2zM850 94h2v1h-2zM797 95h2v1h-2zM849 95h3v1h-3zM798 96h2v1h-2zM848 96h2v1h-2zM851 96h2v1h-2zM798 97h2v1h-2zM847 97h2v1h-2zM851 97h2v1h-2zM798 98h2v1h-2zM846 98h2v1h-2zM852 98h2v1h-2zM799 99h2v1h-2zM845 99h2v1h-2zM852 99h2v1h-2zM799 100h2v1h-2zM844 100h2v1h-2zM853 100h2v1h-2zM800 101h2v1h-2zM843 101h2v1h-2zM853 101h2v1h-2zM800 102h2v1h-2zM842 102h2v1h-2zM854 102h2v1h-2zM801 103h2v1h-2zM840 103h3v1h-3zM854 103h2v1h-2zM801 104h2v1h-2zM839 104h3v1h-3zM854 104h2v1h-2zM801 105h2v1h-2zM838 105h2v1h-2zM855 105h2v1h-2zM802 106h2v1h-2zM837 106h2v1h-2zM855 106h2v1h-2zM802 107h2v1h-2zM836 107h2v1h-2zM856 107h2v1h-2zM803 108h2v1h-2zM835 108h2v1h-2zM856 108h2v1h-2zM803 109h2v1h-2zM834 109h2v1h-2zM857 109h2v1h-2zM804 110h2v1h-2zM833 110h2v1h-2zM857 110h2v1h-2zM804 111h2v1h-2zM832 111h2v1h-2zM858 111h2v1h-2zM804 112h2v1h-2zM831 112h2v1h-2zM858 112h2v1h-2zM805 113h2v1h-2zM830 113h2v1h-2zM859 113h2v1h-2zM805 114h2v1h-2zM829 114h2v1h-2zM859 114h2v1h-2zM806 115h2v1h-2zM828 115h2v1h-2zM859 115h2v1h-2zM806 116h2v1h-2zM827 116h2v1h-2zM860 116h2v1h-2zM806 117h2v1h-2zM826 117h2v1h-2zM860 117h2v1h-2zM807 118h2v1h-2zM825 118h2v1h-2zM861 118h2v1h-2zM807 119h2v1h-2zM824 119h2v1h-2zM861 119h2v1h-2zM808 120h2v1h-2zM823 120h2v1h-2zM862 120h2v1h-2zM808 121h2v1h-2zM821 121h3v1h-3zM862 121h2v1h-2zM809 122h2v1h-2zM820 122h3v1h-3zM863 122h2v1h-2zM809 123h2v1h-2zM819 123h2v1h-2zM863 123h2v1h-2zM809 124h2v1h-2zM818 124h2v1h-2zM863 124h2v1h-2zM810 125h2v1h-2zM817 125h2v1h-2zM864 125h2v1h-2zM810 126h2v1h-2zM816 126h2v1h-2zM864 126h2v1h-2zM811 127h2v1h-2zM815 127h2v1h-2zM865 127h2v1h-2zM811 128h2v1h-2zM814 128h2v1h-2zM865 128h2v1h-2zM812 129h3v1h-3zM866 129h2v1h-2zM812 130h2v1h-2zM866 130h2v1h-2zM812 131h1v1h-1zM867 131h2v1h-2zM867 132h2v1h-2zM867 133h2v1h-2zM868 134h2v1h-2zM868 135h2v1h-2zM869 136h2v1h-2zM869 137h2v1h-2zM870 138h2v1h-2zM870 139h2v1h-2zM871 140h2v1h-2zM871 141h2v1h-2zM872 142h2v1h-2zM872 143h2v1h-2zM872 144h2v1h-2zM873 145h2v1h-2zM873 146h2v1h-2zM874 147h2v1h-2zM874 148h2v1h-2zM875 149h2v1h-2zM875 150h2v1h-2zM876 151h2v1h-2zM876 152h2v1h-2zM876 153h2v1h-2zM877 154h2v1h-2zM877 155h2v1h-2zM878 156h2v1h-2zM878 157h2v1h-2zM879 158h2v1h-2zM879 159h2v1h-2zM880 160h2v1h-2zM880 161h2v1h-2zM880 162h2v1h-2zM881 163h2v1h-2zM881 164h2v1h-2zM882 165h2v1h-2zM882 166h2v1h-2zM883 167h2v1h-2zM883 168h2v1h-2zM884 169h2v1h-2zM884 170h2v1h-2zM884 171h2v1h-2zM885 172h2v1h-2zM885 173h2v1h-2zM886 174h2v1h-2zM886 175h2v1h-2zM887 176h2v1h-2zM887 177h2v1h-2zM888 178h2v1h-2zM888 179h2v1h-2zM889 180h2v1h-2zM889 181h2v1h-2zM889 182h2v1h-2zM890 183h2v1h-2zM890 184h2v1h-2zM891 185h2v1h-2zM891 186h2v1h-2zM892 187h2v1h-2zM892 188h2v1h-2zM893 189h2v1h-2zM893 190h2v1h-2z"/>
<path fill="#ff0000" shape-rendering="crispEdges" d="M893 176h2v1h-2zM893 177h2v1h-2zM893 178h2v1h-2zM893 179h2v1h-2zM893 180h2v1h-2zM893 181h2v1h-2zM893 182h2v1h-2zM893 183h2v1h-2zM893 184h2v1h-2zM882 185h2v1h-2zM893 185h2v1h-2zM882 186h4v1h-4zM893 186h2v1h-2zM884 187h4v1h-4zM893 187h2v1h-2zM886 188h4v1h-4zM893 188h2v1h-2zM888 189h4v1h-4zM893 189h2v1h-2zM890 190h5v1h-5zM892 191h2v1h-2z"/>
</g>
<g clip-path="url(#cs)">
<path fill="#ff0000" shape-rendering="crispEdges" d="M735 455h1v1h-1zM739 455h3v1h-3zM733 456h2v1h-2zM745 456h3v1h-3zM564 457h3v1h-3zM727 457h3v1h-3zM751 457h3v1h-3zM560 458h1v1h-1zM570 458h3v1h-3zM757 458h3v1h-3zM558 459h2v1h-2zM723 459h1v1h-1zM763 459h2v1h-2zM576 460h2v1h-2zM721 460h2v1h-2zM765 460h1v1h-1zM578 461h1v1h-1zM769 461h3v1h-3zM554 462h1v1h-1zM399 463h3v1h-3zM405 463h2v1h-2zM553 463h1v1h-1zM717 463h1v1h-1zM395 464h1v1h-1zM407 464h1v1h-1zM411 464h3v1h-3zM552 464h1v1h-1zM582 464h1v1h-1zM716 464h1v1h-1zM393 465h2v1h-2zM417 465h3v1h-3zM441 465h3v1h-3zM583 465h1v1h-1zM715 465h1v1h-1zM423 466h3v1h-3zM429 466h3v1h-3zM435 466h3v1h-3zM447 466h3v1h-3zM583 466h1v1h-1zM453 467h1v1h-1zM711 467h1v1h-1zM389 468h1v1h-1zM454 468h2v1h-2zM549 468h1v1h-1zM710 468h1v1h-1zM388 469h1v1h-1zM548 469h1v1h-1zM709 469h1v1h-1zM387 470h1v1h-1zM459 470h1v1h-1zM547 470h1v1h-1zM587 470h1v1h-1zM460 471h1v1h-1zM588 471h1v1h-1zM703 471h3v1h-3zM460 472h1v1h-1zM589 472h1v1h-1zM698 473h2v1h-2zM383 474h1v1h-1zM545 474h1v1h-1zM697 474h1v1h-1zM383 475h1v1h-1zM544 475h1v1h-1zM593 475h2v1h-2zM382 476h1v1h-1zM463 476h1v1h-1zM544 476h1v1h-1zM595 476h1v1h-1zM692 476h2v1h-2zM464 477h1v1h-1zM691 477h1v1h-1zM465 478h1v1h-1zM3 479h1v1h-1zM378 479h1v1h-1zM686 479h2v1h-2zM4 480h1v1h-1zM376 480h2v1h-2zM542 480h1v1h-1zM598 480h1v1h-1zM685 480h1v1h-1zM4 481h1v1h-1zM541 481h1v1h-1zM599 481h1v1h-1zM681 481h1v1h-1zM371 482h2v1h-2zM468 482h1v1h-1zM541 482h1v1h-1zM599 482h1v1h-1zM679 482h2v1h-2zM370 483h1v1h-1zM468 483h1v1h-1zM667 483h3v1h-3zM673 483h3v1h-3zM469 484h1v1h-1zM661 484h3v1h-3zM7 485h1v1h-1zM366 485h1v1h-1zM8 486h1v1h-1zM364 486h2v1h-2zM538 486h1v1h-1zM602 486h1v1h-1zM657 486h1v1h-1zM9 487h1v1h-1zM538 487h1v1h-1zM603 487h1v1h-1zM656 487h1v1h-1zM471 488h1v1h-1zM537 488h1v1h-1zM604 488h1v1h-1zM655 488h1v1h-1zM360 489h1v1h-1zM471 489h1v1h-1zM359 490h1v1h-1zM472 490h1v1h-1zM12 491h1v1h-1zM358 491h1v1h-1zM651 491h1v1h-1zM13 492h1v1h-1zM534 492h1v1h-1zM607 492h1v1h-1zM650 492h1v1h-1zM14 493h1v1h-1zM354 493h1v1h-1zM534 493h1v1h-1zM608 493h1v1h-1zM649 493h1v1h-1zM352 494h2v1h-2zM474 494h1v1h-1zM533 494h1v1h-1zM609 494h1v1h-1zM474 495h1v1h-1zM348 496h1v1h-1zM475 496h1v1h-1zM645 496h1v1h-1zM17 497h1v1h-1zM311 497h2v1h-2zM316 497h1v1h-1zM346 497h2v1h-2zM613 497h1v1h-1zM644 497h1v1h-1zM18 498h1v1h-1zM310 498h1v1h-1zM317 498h2v1h-2zM530 498h1v1h-1zM614 498h1v1h-1zM643 498h1v1h-1zM19 499h1v1h-1zM306 499h1v1h-1zM341 499h2v1h-2zM530 499h1v1h-1zM615 499h1v1h-1zM637 499h3v1h-3zM252 500h1v1h-1zM305 500h1v1h-1zM322 500h3v1h-3zM335 500h2v1h-2zM340 500h1v1h-1zM477 500h1v1h-1zM529 500h1v1h-1zM625 500h3v1h-3zM631 500h3v1h-3zM253 501h2v1h-2zM304 501h1v1h-1zM328 501h3v1h-3zM334 501h1v1h-1zM478 501h1v1h-1zM619 501h3v1h-3zM248 502h1v1h-1zM478 502h1v1h-1zM22 503h1v1h-1zM247 503h1v1h-1zM258 503h2v1h-2zM22 504h1v1h-1zM246 504h1v1h-1zM260 504h1v1h-1zM300 504h1v1h-1zM526 504h1v1h-1zM23 505h1v1h-1zM299 505h1v1h-1zM525 505h1v1h-1zM130 506h2v1h-2zM298 506h1v1h-1zM481 506h1v1h-1zM524 506h1v1h-1zM132 507h1v1h-1zM242 507h1v1h-1zM264 507h1v1h-1zM481 507h1v1h-1zM126 508h1v1h-1zM241 508h1v1h-1zM265 508h1v1h-1zM482 508h1v1h-1zM26 509h1v1h-1zM124 509h2v1h-2zM136 509h1v1h-1zM240 509h1v1h-1zM266 509h1v1h-1zM26 510h1v1h-1zM137 510h2v1h-2zM295 510h1v1h-1zM522 510h1v1h-1zM27 511h1v1h-1zM294 511h1v1h-1zM521 511h1v1h-1zM120 512h1v1h-1zM293 512h1v1h-1zM484 512h1v1h-1zM521 512h1v1h-1zM119 513h1v1h-1zM236 513h1v1h-1zM270 513h1v1h-1zM485 513h1v1h-1zM118 514h1v1h-1zM141 514h1v1h-1zM235 514h1v1h-1zM271 514h1v1h-1zM486 514h1v1h-1zM29 515h1v1h-1zM142 515h1v1h-1zM234 515h1v1h-1zM271 515h1v1h-1zM289 515h1v1h-1zM30 516h1v1h-1zM143 516h1v1h-1zM287 516h2v1h-2zM518 516h1v1h-1zM31 517h1v1h-1zM113 517h2v1h-2zM517 517h1v1h-1zM112 518h1v1h-1zM489 518h1v1h-1zM517 518h1v1h-1zM232 519h1v1h-1zM275 519h3v1h-3zM281 519h3v1h-3zM490 519h1v1h-1zM146 520h1v1h-1zM231 520h1v1h-1zM490 520h1v1h-1zM33 521h1v1h-1zM108 521h1v1h-1zM147 521h1v1h-1zM230 521h1v1h-1zM34 522h1v1h-1zM106 522h2v1h-2zM147 522h1v1h-1zM513 522h2v1h-2zM34 523h1v1h-1zM88 523h3v1h-3zM94 523h3v1h-3zM100 523h3v1h-3zM512 523h1v1h-1zM83 524h2v1h-2zM494 524h1v1h-1zM82 525h1v1h-1zM228 525h1v1h-1zM495 525h2v1h-2zM149 526h1v1h-1zM227 526h1v1h-1zM508 526h1v1h-1zM37 527h1v1h-1zM150 527h1v1h-1zM226 527h1v1h-1zM506 527h2v1h-2zM38 528h1v1h-1zM150 528h1v1h-1zM500 528h3v1h-3zM39 529h1v1h-1zM79 529h1v1h-1zM78 530h1v1h-1zM77 531h1v1h-1zM223 531h1v1h-1zM152 532h1v1h-1zM223 532h1v1h-1zM42 533h1v1h-1zM153 533h1v1h-1zM222 533h1v1h-1zM43 534h1v1h-1zM153 534h1v1h-1zM44 535h1v1h-1zM74 535h1v1h-1zM73 536h1v1h-1zM72 537h1v1h-1zM219 537h1v1h-1zM48 538h1v1h-1zM155 538h1v1h-1zM218 538h1v1h-1zM49 539h1v1h-1zM156 539h1v1h-1zM218 539h1v1h-1zM50 540h1v1h-1zM68 540h1v1h-1zM156 540h1v1h-1zM66 541h2v1h-2zM54 542h1v1h-1zM55 543h2v1h-2zM61 543h2v1h-2zM215 543h1v1h-1zM60 544h1v1h-1zM158 544h1v1h-1zM214 544h1v1h-1zM159 545h1v1h-1zM213 545h1v1h-1zM160 546h1v1h-1zM210 549h1v1h-1zM162 550h1v1h-1zM210 550h1v1h-1zM162 551h1v1h-1zM209 551h1v1h-1zM163 552h1v1h-1zM206 555h1v1h-1zM166 556h1v1h-1zM205 556h1v1h-1zM166 557h1v1h-1zM204 557h1v1h-1zM167 558h1v1h-1zM201 560h1v1h-1zM200 561h1v1h-1zM170 562h1v1h-1zM199 562h1v1h-1zM170 563h1v1h-1zM171 564h1v1h-1zM175 565h2v1h-2zM183 565h1v1h-1zM187 565h3v1h-3zM193 565h3v1h-3zM177 566h1v1h-1zM181 566h2v1h-2z"/>
<path fill="#20b2aa" shape-rendering="crispEdges" d="M731 446h1v1h-1zM730 447h1v1h-1zM732 447h2v1h-2zM729 448h1v1h-1zM734 448h1v1h-1zM729 449h1v1h-1zM735 449h2v1h-2zM728 450h1v1h-1zM737 450h2v1h-2zM727 451h1v1h-1zM739 451h1v1h-1zM562 452h2v1h-2zM726 452h1v1h-1zM740 452h1v1h-1zM560 453h2v1h-2zM564 453h1v1h-1zM725 453h1v1h-1zM740 453h1v1h-1zM558 454h2v1h-2zM565 454h1v1h-1zM725 454h1v1h-1zM741 454h1v1h-1zM556 455h2v1h-2zM566 455h1v1h-1zM724 455h1v1h-1zM741 455h1v1h-1zM543 456h13v1h-13zM567 456h1v1h-1zM722 456h2v1h-2zM742 456h1v1h-1zM435 457h1v1h-1zM539 457h4v1h-4zM567 457h1v1h-1zM720 457h2v1h-2zM743 457h1v1h-1zM434 458h1v1h-1zM436 458h2v1h-2zM537 458h2v1h-2zM568 458h1v1h-1zM697 458h4v1h-4zM718 458h2v1h-2zM743 458h1v1h-1zM375 459h8v1h-8zM433 459h1v1h-1zM438 459h2v1h-2zM535 459h2v1h-2zM569 459h1v1h-1zM693 459h4v1h-4zM701 459h2v1h-2zM716 459h2v1h-2zM744 459h1v1h-1zM371 460h4v1h-4zM383 460h5v1h-5zM432 460h1v1h-1zM440 460h2v1h-2zM534 460h1v1h-1zM570 460h1v1h-1zM691 460h2v1h-2zM703 460h3v1h-3zM711 460h5v1h-5zM745 460h1v1h-1zM371 461h1v1h-1zM388 461h2v1h-2zM431 461h1v1h-1zM442 461h2v1h-2zM532 461h2v1h-2zM571 461h1v1h-1zM691 461h1v1h-1zM706 461h5v1h-5zM745 461h1v1h-1zM370 462h1v1h-1zM390 462h2v1h-2zM431 462h1v1h-1zM443 462h1v1h-1zM531 462h1v1h-1zM571 462h1v1h-1zM690 462h1v1h-1zM746 462h1v1h-1zM370 463h1v1h-1zM392 463h2v1h-2zM430 463h1v1h-1zM444 463h1v1h-1zM530 463h1v1h-1zM572 463h1v1h-1zM690 463h1v1h-1zM746 463h1v1h-1zM369 464h1v1h-1zM394 464h3v1h-3zM429 464h1v1h-1zM444 464h1v1h-1zM530 464h1v1h-1zM572 464h1v1h-1zM689 464h1v1h-1zM747 464h1v1h-1zM369 465h1v1h-1zM397 465h4v1h-4zM428 465h1v1h-1zM445 465h1v1h-1zM529 465h1v1h-1zM573 465h1v1h-1zM689 465h1v1h-1zM748 465h2v1h-2zM369 466h1v1h-1zM401 466h3v1h-3zM426 466h2v1h-2zM445 466h1v1h-1zM528 466h1v1h-1zM573 466h1v1h-1zM689 466h1v1h-1zM750 466h2v1h-2zM761 466h3v1h-3zM368 467h1v1h-1zM404 467h1v1h-1zM424 467h2v1h-2zM446 467h1v1h-1zM527 467h1v1h-1zM574 467h1v1h-1zM688 467h1v1h-1zM752 467h2v1h-2zM757 467h4v1h-4zM764 467h1v1h-1zM368 468h1v1h-1zM405 468h2v1h-2zM422 468h2v1h-2zM446 468h1v1h-1zM527 468h1v1h-1zM574 468h1v1h-1zM688 468h1v1h-1zM754 468h3v1h-3zM765 468h2v1h-2zM367 469h1v1h-1zM407 469h1v1h-1zM420 469h2v1h-2zM447 469h1v1h-1zM526 469h1v1h-1zM574 469h1v1h-1zM688 469h1v1h-1zM767 469h1v1h-1zM367 470h1v1h-1zM408 470h1v1h-1zM417 470h3v1h-3zM447 470h1v1h-1zM525 470h1v1h-1zM575 470h1v1h-1zM687 470h1v1h-1zM768 470h1v1h-1zM367 471h1v1h-1zM409 471h2v1h-2zM413 471h4v1h-4zM448 471h1v1h-1zM524 471h1v1h-1zM575 471h1v1h-1zM687 471h1v1h-1zM769 471h2v1h-2zM366 472h1v1h-1zM411 472h2v1h-2zM448 472h1v1h-1zM524 472h1v1h-1zM576 472h1v1h-1zM686 472h1v1h-1zM771 472h1v1h-1zM366 473h1v1h-1zM449 473h1v1h-1zM523 473h1v1h-1zM576 473h1v1h-1zM686 473h1v1h-1zM365 474h1v1h-1zM449 474h1v1h-1zM523 474h1v1h-1zM576 474h1v1h-1zM658 474h2v1h-2zM686 474h1v1h-1zM365 475h1v1h-1zM450 475h1v1h-1zM522 475h1v1h-1zM577 475h1v1h-1zM655 475h3v1h-3zM660 475h1v1h-1zM685 475h1v1h-1zM365 476h1v1h-1zM450 476h1v1h-1zM522 476h1v1h-1zM577 476h1v1h-1zM653 476h2v1h-2zM660 476h1v1h-1zM685 476h1v1h-1zM364 477h1v1h-1zM451 477h1v1h-1zM522 477h1v1h-1zM578 477h1v1h-1zM651 477h2v1h-2zM661 477h1v1h-1zM685 477h1v1h-1zM291 478h1v1h-1zM364 478h1v1h-1zM451 478h1v1h-1zM521 478h1v1h-1zM578 478h1v1h-1zM650 478h1v1h-1zM661 478h1v1h-1zM684 478h1v1h-1zM291 479h2v1h-2zM363 479h1v1h-1zM452 479h1v1h-1zM521 479h1v1h-1zM579 479h1v1h-1zM649 479h1v1h-1zM662 479h1v1h-1zM684 479h1v1h-1zM290 480h1v1h-1zM293 480h2v1h-2zM363 480h1v1h-1zM452 480h1v1h-1zM521 480h1v1h-1zM579 480h1v1h-1zM648 480h1v1h-1zM662 480h1v1h-1zM683 480h1v1h-1zM290 481h1v1h-1zM295 481h1v1h-1zM338 481h2v1h-2zM363 481h1v1h-1zM453 481h1v1h-1zM521 481h1v1h-1zM579 481h1v1h-1zM647 481h1v1h-1zM663 481h1v1h-1zM683 481h1v1h-1zM115 482h1v1h-1zM289 482h1v1h-1zM296 482h1v1h-1zM335 482h3v1h-3zM340 482h1v1h-1zM362 482h1v1h-1zM454 482h1v1h-1zM520 482h1v1h-1zM580 482h1v1h-1zM647 482h1v1h-1zM663 482h1v1h-1zM682 482h1v1h-1zM115 483h2v1h-2zM289 483h1v1h-1zM297 483h2v1h-2zM333 483h2v1h-2zM340 483h1v1h-1zM362 483h1v1h-1zM454 483h1v1h-1zM520 483h1v1h-1zM580 483h1v1h-1zM646 483h1v1h-1zM664 483h1v1h-1zM681 483h1v1h-1zM114 484h1v1h-1zM117 484h1v1h-1zM288 484h1v1h-1zM299 484h1v1h-1zM331 484h2v1h-2zM341 484h1v1h-1zM361 484h1v1h-1zM455 484h1v1h-1zM520 484h1v1h-1zM581 484h1v1h-1zM645 484h1v1h-1zM664 484h1v1h-1zM680 484h1v1h-1zM114 485h1v1h-1zM118 485h1v1h-1zM235 485h1v1h-1zM288 485h1v1h-1zM299 485h1v1h-1zM331 485h1v1h-1zM341 485h1v1h-1zM361 485h1v1h-1zM456 485h1v1h-1zM519 485h1v1h-1zM581 485h1v1h-1zM644 485h1v1h-1zM665 485h1v1h-1zM679 485h1v1h-1zM114 486h1v1h-1zM119 486h1v1h-1zM235 486h2v1h-2zM287 486h1v1h-1zM300 486h1v1h-1zM330 486h1v1h-1zM342 486h1v1h-1zM360 486h1v1h-1zM456 486h1v1h-1zM519 486h1v1h-1zM582 486h1v1h-1zM643 486h1v1h-1zM665 486h1v1h-1zM679 486h1v1h-1zM114 487h1v1h-1zM120 487h1v1h-1zM234 487h1v1h-1zM237 487h1v1h-1zM287 487h1v1h-1zM300 487h1v1h-1zM330 487h1v1h-1zM342 487h1v1h-1zM360 487h1v1h-1zM457 487h1v1h-1zM519 487h1v1h-1zM582 487h1v1h-1zM642 487h1v1h-1zM666 487h1v1h-1zM678 487h1v1h-1zM113 488h1v1h-1zM121 488h1v1h-1zM234 488h1v1h-1zM238 488h1v1h-1zM286 488h1v1h-1zM300 488h1v1h-1zM330 488h1v1h-1zM343 488h1v1h-1zM359 488h1v1h-1zM458 488h1v1h-1zM518 488h1v1h-1zM583 488h1v1h-1zM641 488h1v1h-1zM666 488h1v1h-1zM677 488h1v1h-1zM113 489h1v1h-1zM122 489h1v1h-1zM233 489h1v1h-1zM239 489h1v1h-1zM286 489h1v1h-1zM301 489h1v1h-1zM329 489h1v1h-1zM343 489h1v1h-1zM359 489h1v1h-1zM458 489h1v1h-1zM518 489h1v1h-1zM583 489h1v1h-1zM639 489h2v1h-2zM667 489h4v1h-4zM676 489h1v1h-1zM113 490h1v1h-1zM123 490h1v1h-1zM233 490h1v1h-1zM240 490h1v1h-1zM285 490h1v1h-1zM301 490h1v1h-1zM329 490h1v1h-1zM344 490h1v1h-1zM359 490h1v1h-1zM459 490h1v1h-1zM518 490h1v1h-1zM583 490h1v1h-1zM638 490h1v1h-1zM671 490h5v1h-5zM112 491h1v1h-1zM123 491h1v1h-1zM232 491h1v1h-1zM241 491h1v1h-1zM285 491h1v1h-1zM301 491h1v1h-1zM329 491h1v1h-1zM344 491h1v1h-1zM358 491h1v1h-1zM459 491h1v1h-1zM517 491h1v1h-1zM584 491h1v1h-1zM637 491h1v1h-1zM112 492h1v1h-1zM124 492h1v1h-1zM232 492h1v1h-1zM242 492h1v1h-1zM284 492h1v1h-1zM302 492h1v1h-1zM328 492h1v1h-1zM345 492h1v1h-1zM358 492h1v1h-1zM459 492h1v1h-1zM517 492h1v1h-1zM584 492h1v1h-1zM636 492h1v1h-1zM112 493h1v1h-1zM124 493h1v1h-1zM232 493h1v1h-1zM243 493h1v1h-1zM284 493h1v1h-1zM302 493h1v1h-1zM328 493h1v1h-1zM345 493h1v1h-1zM357 493h1v1h-1zM460 493h1v1h-1zM517 493h1v1h-1zM585 493h1v1h-1zM633 493h3v1h-3zM112 494h1v1h-1zM124 494h1v1h-1zM231 494h1v1h-1zM244 494h1v1h-1zM283 494h1v1h-1zM302 494h1v1h-1zM328 494h1v1h-1zM346 494h1v1h-1zM357 494h1v1h-1zM460 494h1v1h-1zM517 494h1v1h-1zM585 494h1v1h-1zM629 494h4v1h-4zM111 495h1v1h-1zM125 495h1v1h-1zM231 495h1v1h-1zM244 495h1v1h-1zM283 495h1v1h-1zM303 495h1v1h-1zM327 495h1v1h-1zM346 495h1v1h-1zM356 495h1v1h-1zM460 495h1v1h-1zM516 495h1v1h-1zM586 495h1v1h-1zM627 495h2v1h-2zM111 496h1v1h-1zM125 496h1v1h-1zM230 496h1v1h-1zM245 496h1v1h-1zM283 496h1v1h-1zM303 496h1v1h-1zM327 496h1v1h-1zM347 496h1v1h-1zM356 496h1v1h-1zM460 496h1v1h-1zM516 496h1v1h-1zM586 496h1v1h-1zM626 496h1v1h-1zM111 497h1v1h-1zM125 497h1v1h-1zM230 497h1v1h-1zM245 497h1v1h-1zM282 497h1v1h-1zM303 497h1v1h-1zM327 497h1v1h-1zM347 497h4v1h-4zM355 497h1v1h-1zM461 497h1v1h-1zM516 497h1v1h-1zM587 497h1v1h-1zM626 497h1v1h-1zM110 498h1v1h-1zM125 498h1v1h-1zM230 498h1v1h-1zM246 498h1v1h-1zM282 498h1v1h-1zM304 498h1v1h-1zM326 498h1v1h-1zM351 498h5v1h-5zM461 498h1v1h-1zM515 498h1v1h-1zM587 498h4v1h-4zM625 498h1v1h-1zM110 499h1v1h-1zM126 499h1v1h-1zM229 499h1v1h-1zM246 499h1v1h-1zM282 499h1v1h-1zM304 499h1v1h-1zM326 499h1v1h-1zM461 499h1v1h-1zM515 499h1v1h-1zM591 499h13v1h-13zM625 499h1v1h-1zM110 500h1v1h-1zM126 500h1v1h-1zM229 500h1v1h-1zM247 500h1v1h-1zM282 500h1v1h-1zM304 500h1v1h-1zM326 500h1v1h-1zM461 500h1v1h-1zM515 500h1v1h-1zM604 500h1v1h-1zM624 500h1v1h-1zM110 501h1v1h-1zM126 501h1v1h-1zM228 501h1v1h-1zM248 501h1v1h-1zM281 501h1v1h-1zM305 501h1v1h-1zM325 501h1v1h-1zM462 501h1v1h-1zM514 501h1v1h-1zM605 501h1v1h-1zM624 501h1v1h-1zM109 502h1v1h-1zM127 502h1v1h-1zM228 502h1v1h-1zM248 502h1v1h-1zM281 502h1v1h-1zM305 502h1v1h-1zM325 502h1v1h-1zM462 502h1v1h-1zM514 502h1v1h-1zM606 502h1v1h-1zM623 502h1v1h-1zM109 503h1v1h-1zM127 503h1v1h-1zM227 503h1v1h-1zM249 503h1v1h-1zM281 503h1v1h-1zM305 503h1v1h-1zM325 503h1v1h-1zM462 503h1v1h-1zM513 503h1v1h-1zM607 503h2v1h-2zM622 503h1v1h-1zM109 504h1v1h-1zM127 504h1v1h-1zM227 504h1v1h-1zM249 504h1v1h-1zM280 504h1v1h-1zM306 504h1v1h-1zM324 504h1v1h-1zM462 504h1v1h-1zM513 504h1v1h-1zM609 504h1v1h-1zM622 504h1v1h-1zM108 505h1v1h-1zM128 505h1v1h-1zM225 505h2v1h-2zM250 505h1v1h-1zM280 505h1v1h-1zM306 505h1v1h-1zM324 505h1v1h-1zM463 505h1v1h-1zM513 505h1v1h-1zM610 505h1v1h-1zM621 505h1v1h-1zM108 506h1v1h-1zM128 506h1v1h-1zM223 506h2v1h-2zM250 506h1v1h-1zM280 506h1v1h-1zM306 506h1v1h-1zM324 506h1v1h-1zM463 506h1v1h-1zM512 506h1v1h-1zM611 506h2v1h-2zM621 506h1v1h-1zM108 507h1v1h-1zM128 507h1v1h-1zM222 507h1v1h-1zM251 507h1v1h-1zM279 507h1v1h-1zM307 507h1v1h-1zM323 507h1v1h-1zM463 507h1v1h-1zM512 507h1v1h-1zM613 507h2v1h-2zM620 507h1v1h-1zM108 508h1v1h-1zM129 508h1v1h-1zM220 508h2v1h-2zM251 508h1v1h-1zM279 508h1v1h-1zM307 508h1v1h-1zM323 508h1v1h-1zM463 508h1v1h-1zM511 508h1v1h-1zM615 508h3v1h-3zM620 508h1v1h-1zM107 509h1v1h-1zM129 509h1v1h-1zM219 509h1v1h-1zM252 509h1v1h-1zM279 509h1v1h-1zM308 509h1v1h-1zM322 509h1v1h-1zM464 509h1v1h-1zM511 509h1v1h-1zM618 509h2v1h-2zM3 510h2v1h-2zM17 510h3v1h-3zM107 510h1v1h-1zM129 510h1v1h-1zM219 510h1v1h-1zM252 510h1v1h-1zM279 510h1v1h-1zM308 510h1v1h-1zM322 510h1v1h-1zM464 510h1v1h-1zM511 510h1v1h-1zM5 511h4v1h-4zM13 511h4v1h-4zM19 511h1v1h-1zM67 511h1v1h-1zM107 511h1v1h-1zM129 511h1v1h-1zM218 511h1v1h-1zM252 511h1v1h-1zM278 511h1v1h-1zM309 511h1v1h-1zM321 511h1v1h-1zM464 511h1v1h-1zM510 511h1v1h-1zM9 512h4v1h-4zM20 512h1v1h-1zM67 512h3v1h-3zM106 512h1v1h-1zM130 512h1v1h-1zM218 512h1v1h-1zM252 512h1v1h-1zM278 512h1v1h-1zM310 512h1v1h-1zM320 512h1v1h-1zM464 512h1v1h-1zM510 512h1v1h-1zM20 513h1v1h-1zM66 513h1v1h-1zM70 513h2v1h-2zM106 513h1v1h-1zM130 513h1v1h-1zM217 513h1v1h-1zM253 513h1v1h-1zM278 513h1v1h-1zM311 513h1v1h-1zM319 513h1v1h-1zM465 513h1v1h-1zM509 513h1v1h-1zM21 514h1v1h-1zM66 514h1v1h-1zM72 514h2v1h-2zM105 514h1v1h-1zM130 514h1v1h-1zM217 514h1v1h-1zM253 514h1v1h-1zM277 514h1v1h-1zM311 514h1v1h-1zM319 514h1v1h-1zM465 514h1v1h-1zM509 514h1v1h-1zM21 515h1v1h-1zM65 515h1v1h-1zM74 515h2v1h-2zM105 515h1v1h-1zM131 515h1v1h-1zM216 515h1v1h-1zM253 515h1v1h-1zM277 515h1v1h-1zM312 515h1v1h-1zM318 515h1v1h-1zM465 515h1v1h-1zM509 515h1v1h-1zM22 516h1v1h-1zM65 516h1v1h-1zM76 516h1v1h-1zM104 516h1v1h-1zM131 516h1v1h-1zM216 516h1v1h-1zM253 516h1v1h-1zM277 516h1v1h-1zM313 516h1v1h-1zM317 516h1v1h-1zM465 516h1v1h-1zM508 516h1v1h-1zM22 517h1v1h-1zM64 517h1v1h-1zM76 517h1v1h-1zM104 517h1v1h-1zM131 517h1v1h-1zM216 517h1v1h-1zM254 517h1v1h-1zM276 517h1v1h-1zM314 517h1v1h-1zM316 517h1v1h-1zM466 517h1v1h-1zM508 517h1v1h-1zM23 518h1v1h-1zM64 518h1v1h-1zM77 518h1v1h-1zM103 518h1v1h-1zM131 518h1v1h-1zM215 518h1v1h-1zM254 518h1v1h-1zM276 518h1v1h-1zM314 518h1v1h-1zM316 518h1v1h-1zM466 518h1v1h-1zM507 518h1v1h-1zM23 519h1v1h-1zM63 519h1v1h-1zM78 519h1v1h-1zM103 519h1v1h-1zM132 519h1v1h-1zM215 519h1v1h-1zM254 519h1v1h-1zM276 519h1v1h-1zM315 519h1v1h-1zM466 519h1v1h-1zM507 519h1v1h-1zM23 520h1v1h-1zM63 520h1v1h-1zM79 520h1v1h-1zM103 520h1v1h-1zM132 520h1v1h-1zM214 520h1v1h-1zM254 520h1v1h-1zM276 520h1v1h-1zM466 520h1v1h-1zM505 520h2v1h-2zM24 521h1v1h-1zM62 521h1v1h-1zM79 521h1v1h-1zM102 521h1v1h-1zM132 521h1v1h-1zM214 521h1v1h-1zM255 521h1v1h-1zM275 521h1v1h-1zM467 521h1v1h-1zM503 521h2v1h-2zM24 522h1v1h-1zM62 522h1v1h-1zM80 522h1v1h-1zM102 522h1v1h-1zM132 522h1v1h-1zM214 522h1v1h-1zM255 522h1v1h-1zM275 522h1v1h-1zM467 522h1v1h-1zM491 522h2v1h-2zM502 522h1v1h-1zM25 523h1v1h-1zM61 523h1v1h-1zM81 523h1v1h-1zM101 523h1v1h-1zM132 523h1v1h-1zM213 523h1v1h-1zM255 523h1v1h-1zM274 523h1v1h-1zM467 523h1v1h-1zM490 523h1v1h-1zM493 523h4v1h-4zM500 523h2v1h-2zM25 524h1v1h-1zM61 524h1v1h-1zM82 524h1v1h-1zM101 524h1v1h-1zM133 524h1v1h-1zM213 524h1v1h-1zM255 524h1v1h-1zM274 524h1v1h-1zM468 524h1v1h-1zM490 524h1v1h-1zM497 524h3v1h-3zM26 525h1v1h-1zM60 525h1v1h-1zM82 525h1v1h-1zM100 525h1v1h-1zM133 525h1v1h-1zM212 525h1v1h-1zM256 525h1v1h-1zM273 525h1v1h-1zM468 525h1v1h-1zM489 525h1v1h-1zM26 526h1v1h-1zM60 526h1v1h-1zM83 526h1v1h-1zM100 526h1v1h-1zM133 526h1v1h-1zM212 526h1v1h-1zM256 526h1v1h-1zM273 526h1v1h-1zM469 526h1v1h-1zM489 526h1v1h-1zM27 527h1v1h-1zM59 527h1v1h-1zM84 527h1v1h-1zM99 527h1v1h-1zM133 527h1v1h-1zM211 527h1v1h-1zM256 527h1v1h-1zM272 527h1v1h-1zM470 527h1v1h-1zM488 527h1v1h-1zM27 528h1v1h-1zM59 528h1v1h-1zM85 528h1v1h-1zM99 528h1v1h-1zM133 528h1v1h-1zM211 528h1v1h-1zM256 528h1v1h-1zM272 528h1v1h-1zM471 528h1v1h-1zM488 528h1v1h-1zM27 529h1v1h-1zM59 529h1v1h-1zM85 529h1v1h-1zM98 529h1v1h-1zM134 529h1v1h-1zM210 529h1v1h-1zM257 529h1v1h-1zM271 529h1v1h-1zM471 529h1v1h-1zM487 529h1v1h-1zM28 530h1v1h-1zM58 530h1v1h-1zM86 530h1v1h-1zM97 530h1v1h-1zM134 530h1v1h-1zM210 530h1v1h-1zM257 530h1v1h-1zM270 530h1v1h-1zM472 530h1v1h-1zM486 530h1v1h-1zM28 531h1v1h-1zM58 531h1v1h-1zM87 531h1v1h-1zM96 531h1v1h-1zM134 531h1v1h-1zM209 531h1v1h-1zM257 531h1v1h-1zM270 531h1v1h-1zM473 531h1v1h-1zM486 531h1v1h-1zM28 532h1v1h-1zM57 532h1v1h-1zM88 532h1v1h-1zM95 532h1v1h-1zM134 532h1v1h-1zM209 532h1v1h-1zM257 532h1v1h-1zM269 532h1v1h-1zM474 532h1v1h-1zM485 532h1v1h-1zM28 533h1v1h-1zM57 533h1v1h-1zM89 533h1v1h-1zM94 533h1v1h-1zM134 533h1v1h-1zM208 533h1v1h-1zM258 533h1v1h-1zM269 533h1v1h-1zM474 533h1v1h-1zM485 533h1v1h-1zM29 534h1v1h-1zM56 534h1v1h-1zM89 534h1v1h-1zM93 534h1v1h-1zM135 534h1v1h-1zM208 534h1v1h-1zM258 534h1v1h-1zM268 534h1v1h-1zM475 534h2v1h-2zM484 534h1v1h-1zM29 535h1v1h-1zM56 535h1v1h-1zM90 535h1v1h-1zM92 535h1v1h-1zM135 535h1v1h-1zM207 535h1v1h-1zM258 535h1v1h-1zM268 535h1v1h-1zM477 535h4v1h-4zM484 535h1v1h-1zM29 536h1v1h-1zM55 536h1v1h-1zM91 536h1v1h-1zM135 536h1v1h-1zM207 536h1v1h-1zM258 536h1v1h-1zM265 536h3v1h-3zM481 536h3v1h-3zM30 537h1v1h-1zM55 537h1v1h-1zM135 537h1v1h-1zM206 537h1v1h-1zM259 537h1v1h-1zM261 537h4v1h-4zM30 538h1v1h-1zM54 538h1v1h-1zM135 538h1v1h-1zM206 538h1v1h-1zM259 538h2v1h-2zM30 539h1v1h-1zM54 539h1v1h-1zM135 539h1v1h-1zM205 539h1v1h-1zM30 540h1v1h-1zM53 540h1v1h-1zM136 540h1v1h-1zM205 540h1v1h-1zM31 541h1v1h-1zM53 541h1v1h-1zM136 541h1v1h-1zM204 541h1v1h-1zM31 542h1v1h-1zM52 542h1v1h-1zM136 542h1v1h-1zM204 542h1v1h-1zM31 543h1v1h-1zM52 543h1v1h-1zM136 543h1v1h-1zM203 543h1v1h-1zM32 544h1v1h-1zM51 544h1v1h-1zM136 544h1v1h-1zM202 544h1v1h-1zM32 545h1v1h-1zM51 545h1v1h-1zM137 545h1v1h-1zM201 545h1v1h-1zM32 546h1v1h-1zM51 546h1v1h-1zM137 546h1v1h-1zM200 546h1v1h-1zM32 547h1v1h-1zM50 547h1v1h-1zM137 547h1v1h-1zM199 547h1v1h-1zM33 548h1v1h-1zM50 548h1v1h-1zM137 548h1v1h-1zM199 548h1v1h-1zM33 549h1v1h-1zM49 549h1v1h-1zM137 549h1v1h-1zM198 549h1v1h-1zM33 550h1v1h-1zM49 550h1v1h-1zM138 550h1v1h-1zM197 550h1v1h-1zM34 551h1v1h-1zM48 551h1v1h-1zM138 551h1v1h-1zM196 551h1v1h-1zM34 552h1v1h-1zM48 552h1v1h-1zM138 552h1v1h-1zM195 552h1v1h-1zM34 553h1v1h-1zM47 553h1v1h-1zM138 553h1v1h-1zM194 553h1v1h-1zM34 554h1v1h-1zM47 554h1v1h-1zM138 554h1v1h-1zM193 554h1v1h-1zM35 555h1v1h-1zM47 555h1v1h-1zM139 555h1v1h-1zM192 555h1v1h-1zM35 556h1v1h-1zM46 556h1v1h-1zM139 556h1v1h-1zM191 556h1v1h-1zM36 557h1v1h-1zM46 557h1v1h-1zM139 557h1v1h-1zM190 557h1v1h-1zM37 558h1v1h-1zM45 558h1v1h-1zM140 558h1v1h-1zM189 558h1v1h-1zM38 559h1v1h-1zM45 559h1v1h-1zM141 559h2v1h-2zM188 559h1v1h-1zM39 560h2v1h-2zM44 560h1v1h-1zM143 560h1v1h-1zM187 560h1v1h-1zM41 561h1v1h-1zM44 561h1v1h-1zM144 561h1v1h-1zM186 561h1v1h-1zM42 562h2v1h-2zM145 562h2v1h-2zM185 562h1v1h-1zM43 563h1v1h-1zM147 563h4v1h-4zM184 563h1v1h-1zM151 564h6v1h-6zM183 564h1v1h-1zM157 565h4v1h-4zM182 565h1v1h-1zM161 566h3v1h-3zM181 566h1v1h-1zM164 567h1v1h-1zM180 567h1v1h-1zM165 568h2v1h-2zM178 568h2v1h-2zM167 569h1v1h-1zM176 569h2v1h-2zM168 570h1v1h-1zM174 570h2v1h-2zM169 571h2v1h-2zM172 571h2v1h-2zM171 572h1v1h-1z"/>
</g>
<g shape-rendering="crispEdges" fill="none" stroke="#000" stroke-width="1">
<rect x="2.5" y="2.5" width="978" height="437"/>
<rect x="2.5" y="441.5" width="978" height="137"/>
</g>
<g><rect x="981" y="14" width="2" height="1" fill="#000"/><text x="985.6 991.12 993.25 998.2 1003.23 1008.23" y="17" fill="#000" >1.3690</text><rect x="981" y="46" width="2" height="1" fill="#000"/><text x="985.6 991.12 993.25 998.2 1003.23 1008.23" y="49" fill="#000" >1.3625</text><rect x="981" y="79" width="2" height="1" fill="#000"/><text x="985.6 991.12 993.25 998.23 1003.2 1008.23" y="82" fill="#000" >1.3560</text><rect x="981" y="111" width="2" height="1" fill="#000"/><text x="985.6 991.12 993.25 998.75 1003.23 1008.23" y="114" fill="#000" >1.3495</text><rect x="981" y="144" width="2" height="1" fill="#000"/><text x="985.6 991.12 993.25 998.75 1003.25 1008.23" y="147" fill="#000" >1.3430</text><rect x="981" y="176" width="2" height="1" fill="#000"/><text x="985.6 991.12 993.25 998.25 1003.2 1008.23" y="179" fill="#000" >1.3365</text><rect x="981" y="209" width="2" height="1" fill="#000"/><text x="985.6 991.12 993.25 998.25 1003.23 1008.23" y="212" fill="#000" >1.3300</text><rect x="981" y="241" width="2" height="1" fill="#000"/><text x="985.6 991.12 993.25 998.23 1003.25 1008.23" y="244" fill="#000" >1.3235</text><rect x="981" y="274" width="2" height="1" fill="#000"/><text x="985.6 991.12 993.25 998.6 1003.23 1008.23" y="277" fill="#000" >1.3170</text><rect x="981" y="306" width="2" height="1" fill="#000"/><text x="985.6 991.12 993.25 998.6 1003.23 1008.23" y="309" fill="#000" >1.3105</text><rect x="981" y="339" width="2" height="1" fill="#000"/><text x="985.6 991.12 993.25 998.23 1003.75 1008.23" y="342" fill="#000" >1.3040</text><rect x="981" y="371" width="2" height="1" fill="#000"/><text x="985.6 991.12 993.23 998.23 1003.23 1008.23" y="374" fill="#000" >1.2975</text><rect x="981" y="404" width="2" height="1" fill="#000"/><text x="985.6 991.12 993.23 998.23 1003.6 1008.23" y="407" fill="#000" >1.2910</text><rect x="981" y="436" width="2" height="1" fill="#000"/><text x="985.6 991.12 993.23 998.2 1003.75 1008.23" y="439" fill="#000" >1.2845</text><rect x="981" y="443" width="2" height="1" fill="#000"/><rect x="981" y="577" width="2" height="1" fill="#000"/><text x="983.6 988.23 993.23" y="452" fill="#000" >100</text><text x="982.2 987.23" y="472" fill="#000" >80</text><text x="982.23 987.23" y="553" fill="#000" >20</text><text x="982.23" y="575" fill="#000" >0</text></g>
<rect x="983" y="27" width="34" height="11" fill="#ff0000" shape-rendering="crispEdges"/>
<text x="985.6 991.12 993.25 998.2 1003.23 1008.23" y="36" fill="#fff" >1.3650</text>
<rect x="983" y="127" width="34" height="11" fill="#ff0000" shape-rendering="crispEdges"/>
<text x="985.6 991.12 993.25 998.75 1003.23 1008.23" y="136" fill="#fff" >1.3450</text>
<rect x="983" y="227" width="34" height="11" fill="#ff0000" shape-rendering="crispEdges"/>
<text x="985.6 991.12 993.25 998.23 1003.23 1008.23" y="236" fill="#fff" >1.3250</text>
<rect x="983" y="328" width="34" height="11" fill="#ff0000" shape-rendering="crispEdges"/>
<text x="985.6 991.12 993.25 998.23 1003.23 1008.23" y="337" fill="#fff" >1.3050</text>
<rect x="983" y="427" width="34" height="11" fill="#ff0000" shape-rendering="crispEdges"/>
<text x="985.6 991.12 993.23 998.2 1003.23 1008.23" y="436" fill="#fff" >1.2850</text>
<rect x="983" y="56" width="34" height="11" fill="#000" shape-rendering="crispEdges"/>
<text x="985.6 991.12 993.25 998.23 1003.23 1008.75" y="65" fill="#fff" >1.3594</text>
<rect x="3" y="579" width="1" height="3" fill="#000"/>
<text x="1.6 6.6 14.22 21.23 25.9 33.23 38.23 43.23 48.2" y="591" fill="#000" >11Dec2006</text>
<rect x="67" y="579" width="1" height="3" fill="#000"/>
<text x="65.22 70.6 78.22 85.22 89.9 97.22 102.22 107.22 112.2" y="591" fill="#000" >21Dec2006</text>
<rect x="131" y="579" width="1" height="3" fill="#000"/>
<text x="129.75 137.3 141.0 146.22 154.22 159.22 164.22 169.22" y="591" fill="#000" >4Jan2007</text>
<rect x="195" y="579" width="1" height="3" fill="#000"/>
<text x="193.6 198.2 206.3 210.0 215.22 223.22 228.22 233.22 238.22" y="591" fill="#000" >16Jan2007</text>
<rect x="259" y="579" width="1" height="3" fill="#000"/>
<text x="257.23 262.2 270.3 274.0 279.23 287.23 292.23 297.23 302.23" y="591" fill="#000" >26Jan2007</text>
<rect x="323" y="579" width="1" height="3" fill="#000"/>
<text x="321.23 329.25 335.23 340.1 348.23 353.23 358.23 363.23" y="591" fill="#000" >7Feb2007</text>
<rect x="387" y="579" width="1" height="3" fill="#000"/>
<text x="385.6 390.23 398.25 404.23 409.1 417.23 422.23 427.23 432.23" y="591" fill="#000" >19Feb2007</text>
<rect x="451" y="579" width="1" height="3" fill="#000"/>
<text x="449.6 457.35 465.0 470.6 477.23 482.23 487.23 492.23" y="591" fill="#000" >1Mar2007</text>
<rect x="515" y="579" width="1" height="3" fill="#000"/>
<text x="513.6 518.25 526.35 534.0 539.6 546.23 551.23 556.23 561.23" y="591" fill="#000" >13Mar2007</text>
<rect x="579" y="579" width="1" height="3" fill="#000"/>
<text x="577.23 582.25 590.35 598.0 603.6 610.23 615.23 620.23 625.23" y="591" fill="#000" >23Mar2007</text>
<rect x="643" y="579" width="1" height="3" fill="#000"/>
<text x="641.75 649.65 656.1 661.6 668.23 673.23 678.23 683.23" y="591" fill="#000" >4Apr2007</text>
<rect x="707" y="579" width="1" height="3" fill="#000"/>
<text x="705.6 710.2 718.65 725.1 730.6 737.23 742.23 747.23 752.23" y="591" fill="#000" >16Apr2007</text>
<rect x="771" y="579" width="1" height="3" fill="#000"/>
<text x="769.23 774.2 782.65 789.1 794.6 801.23 806.23 811.23 816.23" y="591" fill="#000" >26Apr2007</text>
<text x="5.97 12.4 18.73 25.4 32.17 38.23 45.6 48.23 55.0 60.4 62.4 65.0 76.6 82.12 84.25 89.2 94.75 99.75 107.6 113.12 115.25 120.2 125.22 130.25 138.6 144.12 146.25 151.22 156.2 161.2 169.6 175.12 177.25 182.22 187.22 192.75" y="14" fill="#000" >EURUSD,Daily1.36441.36531.35861.3594</text>
<text x="6.17 12.57 15.22 19.9 24.2 29.57 32.2 37.6 40.23 45.6 48.25 53.1 59.23 64.22 70.12 72.2 77.22 82.6 87.2 95.2 100.75 106.12 108.6 113.6 118.25 123.22" y="455" fill="#000" >Stoch(8,5,3)77.601884.1137</text>
<text x="5.35 13.22 18.57 21.0 26.43 32.6 36.0 41.85 47.23 52.6 56.6 62.2 70.22 75.22 80.22 85.6 90.83 94.22 99.22 104.22 109.22 117.35 125.22 130.57 133.0 139.12 147.22 152.22 157.57 160.22 165.53 173.18 179.22 185.03 187.57 190.88 198.0 203.6 207.22 215.35 222.22 227.6 231.1 237.12" y="573" fill="#000" >MetaTrader,?2001-2007MetaQuotesSoftwareCorp.</text>
</svg></body></html>
